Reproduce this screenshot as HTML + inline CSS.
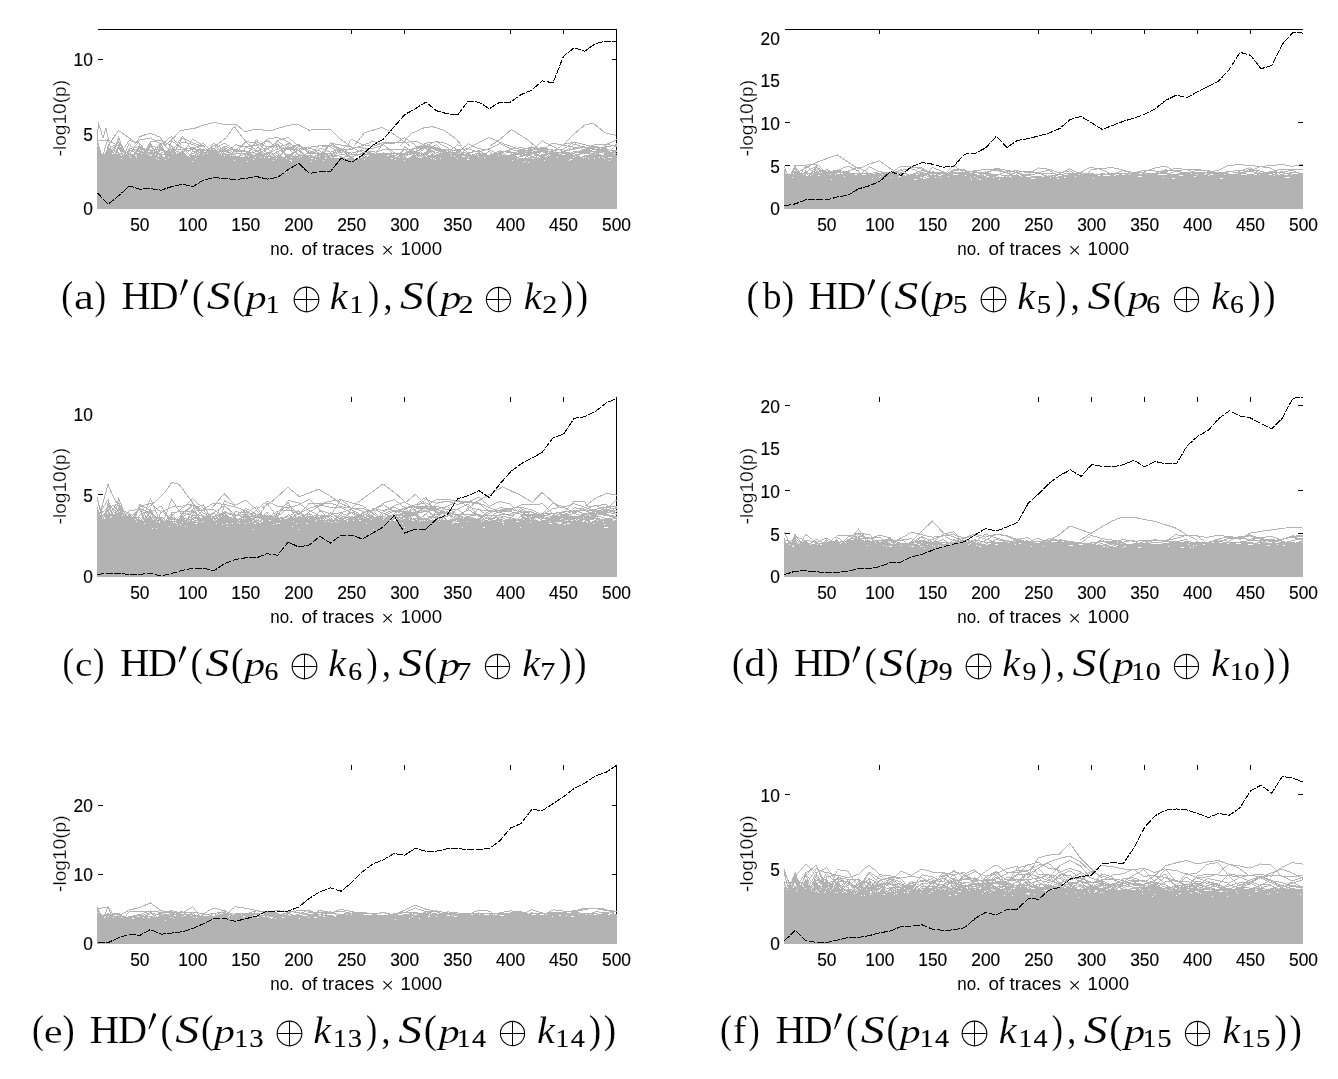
<!DOCTYPE html><html><head><meta charset="utf-8"><style>html,body{margin:0;padding:0;background:#fff;}svg{display:block;will-change:transform;}text{font-family:"Liberation Sans",sans-serif;}.s{font-family:"Liberation Serif",serif;}</style></head><body>
<svg width="1338" height="1079" viewBox="0 0 1338 1079">
<rect width="1338" height="1079" fill="#fff"/>
<path d="M98 29h519v1h-519zM616 29h1v180h-1zM351 29h1v5h-1zM404 29h1v5h-1zM510 29h1v5h-1zM563 29h1v5h-1zM98 59h5v1h-5zM612 59h5v1h-5z" fill="#000" shape-rendering="crispEdges"/>
<path d="M118 136.5h1M171 136.5h1M182 136.5h1M118 137.5h1M150 137.5h1M169 137.5h2M172 137.5h1M181 137.5h1M183 137.5h1M274 137.5h5M286 137.5h3M404 137.5h1M488 137.5h2M108 138.5h1M118 138.5h2M145 138.5h5M151 138.5h1M168 138.5h1M173 138.5h1M180 138.5h5M268 138.5h6M279 138.5h2M282 138.5h4M289 138.5h1M402 138.5h2M405 138.5h2M486 138.5h2M490 138.5h3M107 139.5h2M117 139.5h3M140 139.5h5M152 139.5h2M167 139.5h1M174 139.5h1M180 139.5h2M184 139.5h3M192 139.5h2M256 139.5h1M266 139.5h2M279 139.5h5M290 139.5h1M351 139.5h2M401 139.5h1M407 139.5h1M484 139.5h2M493 139.5h2M616 139.5h1M97 140.5h13M117 140.5h1M119 140.5h1M129 140.5h2M139 140.5h1M154 140.5h9M166 140.5h1M171 140.5h1M174 140.5h1M179 140.5h2M185 140.5h1M187 140.5h2M191 140.5h1M194 140.5h2M255 140.5h1M257 140.5h1M265 140.5h2M268 140.5h1M277 140.5h2M284 140.5h2M291 140.5h2M350 140.5h1M353 140.5h2M399 140.5h2M408 140.5h1M482 140.5h2M495 140.5h2M542 140.5h1M614 140.5h2M97 141.5h1M107 141.5h2M110 141.5h1M117 141.5h2M120 141.5h1M128 141.5h1M131 141.5h4M138 141.5h1M150 141.5h7M163 141.5h3M171 141.5h2M175 141.5h1M178 141.5h1M180 141.5h1M185 141.5h1M189 141.5h2M196 141.5h1M245 141.5h4M255 141.5h3M264 141.5h6M276 141.5h3M286 141.5h2M293 141.5h1M349 141.5h1M355 141.5h2M371 141.5h4M397 141.5h2M409 141.5h9M435 141.5h4M480 141.5h2M497 141.5h2M541 141.5h1M543 141.5h1M612 141.5h2M97 142.5h1M106 142.5h1M109 142.5h1M111 142.5h2M116 142.5h5M127 142.5h1M135 142.5h4M150 142.5h1M157 142.5h2M163 142.5h3M171 142.5h1M173 142.5h2M176 142.5h1M178 142.5h2M181 142.5h6M190 142.5h3M197 142.5h2M244 142.5h3M249 142.5h7M257 142.5h2M262 142.5h3M269 142.5h2M275 142.5h2M279 142.5h1M288 142.5h2M294 142.5h1M330 142.5h1M349 142.5h1M357 142.5h2M369 142.5h2M375 142.5h3M382 142.5h27M411 142.5h1M418 142.5h2M427 142.5h8M437 142.5h7M478 142.5h2M499 142.5h3M540 142.5h1M544 142.5h2M570 142.5h8M610 142.5h2M97 143.5h2M106 143.5h1M109 143.5h1M113 143.5h2M116 143.5h2M119 143.5h2M127 143.5h1M129 143.5h1M137 143.5h1M139 143.5h1M149 143.5h2M159 143.5h4M166 143.5h2M170 143.5h1M175 143.5h1M177 143.5h1M179 143.5h2M187 143.5h4M193 143.5h3M199 143.5h2M202 143.5h2M213 143.5h2M223 143.5h3M243 143.5h2M247 143.5h1M254 143.5h3M259 143.5h4M264 143.5h1M271 143.5h1M274 143.5h2M277 143.5h1M280 143.5h2M287 143.5h4M295 143.5h1M330 143.5h5M348 143.5h1M359 143.5h2M366 143.5h3M378 143.5h4M383 143.5h12M412 143.5h2M420 143.5h2M424 143.5h3M430 143.5h2M439 143.5h1M444 143.5h3M468 143.5h1M476 143.5h2M499 143.5h2M502 143.5h2M539 143.5h1M546 143.5h2M551 143.5h6M565 143.5h5M571 143.5h2M575 143.5h1M578 143.5h4M607 143.5h3M616 143.5h1M97 144.5h2M106 144.5h1M109 144.5h1M115 144.5h2M118 144.5h4M126 144.5h1M128 144.5h1M130 144.5h1M136 144.5h1M139 144.5h2M148 144.5h4M159 144.5h3M163 144.5h1M168 144.5h3M176 144.5h3M180 144.5h1M188 144.5h1M191 144.5h3M196 144.5h3M200 144.5h2M204 144.5h1M212 144.5h1M215 144.5h2M221 144.5h2M226 144.5h1M235 144.5h2M242 144.5h2M248 144.5h2M253 144.5h2M256 144.5h3M260 144.5h4M272 144.5h2M275 144.5h4M282 144.5h1M285 144.5h4M290 144.5h2M296 144.5h4M329 144.5h1M331 144.5h3M335 144.5h6M347 144.5h1M361 144.5h5M377 144.5h3M381 144.5h3M414 144.5h1M422 144.5h3M427 144.5h3M436 144.5h1M440 144.5h2M447 144.5h2M457 144.5h1M467 144.5h1M469 144.5h2M474 144.5h2M497 144.5h2M501 144.5h2M504 144.5h3M538 144.5h1M548 144.5h3M557 144.5h5M563 144.5h2M570 144.5h1M573 144.5h4M582 144.5h4M594 144.5h16M615 144.5h2M98 145.5h1M105 145.5h1M108 145.5h2M113 145.5h9M125 145.5h1M128 145.5h1M130 145.5h1M135 145.5h1M139 145.5h1M141 145.5h1M148 145.5h4M158 145.5h4M164 145.5h1M169 145.5h3M176 145.5h4M188 145.5h1M194 145.5h2M198 145.5h6M205 145.5h1M211 145.5h1M213 145.5h2M217 145.5h1M219 145.5h2M227 145.5h2M234 145.5h1M237 145.5h6M250 145.5h8M259 145.5h2M262 145.5h3M271 145.5h6M278 145.5h2M281 145.5h4M286 145.5h1M289 145.5h1M292 145.5h9M318 145.5h14M333 145.5h2M341 145.5h6M361 145.5h3M365 145.5h5M374 145.5h3M380 145.5h3M384 145.5h1M415 145.5h1M420 145.5h2M423 145.5h5M429 145.5h2M434 145.5h2M437 145.5h1M442 145.5h2M449 145.5h2M456 145.5h1M458 145.5h2M466 145.5h1M471 145.5h3M495 145.5h2M503 145.5h2M507 145.5h3M537 145.5h1M548 145.5h4M561 145.5h6M568 145.5h2M572 145.5h1M577 145.5h3M586 145.5h4M591 145.5h3M604 145.5h2M610 145.5h7M97 146.5h2M105 146.5h1M107 146.5h2M110 146.5h3M114 146.5h2M118 146.5h2M121 146.5h2M125 146.5h1M127 146.5h1M131 146.5h1M134 146.5h1M137 146.5h6M147 146.5h8M157 146.5h1M159 146.5h2M162 146.5h1M165 146.5h1M169 146.5h1M171 146.5h2M175 146.5h1M177 146.5h4M187 146.5h1M189 146.5h1M196 146.5h9M206 146.5h1M211 146.5h2M215 146.5h1M217 146.5h3M223 146.5h4M229 146.5h1M233 146.5h1M239 146.5h14M258 146.5h1M261 146.5h2M265 146.5h10M276 146.5h6M285 146.5h1M287 146.5h2M290 146.5h1M292 146.5h4M298 146.5h4M311 146.5h8M322 146.5h9M332 146.5h5M345 146.5h7M358 146.5h3M370 146.5h4M377 146.5h4M385 146.5h1M404 146.5h1M415 146.5h19M438 146.5h1M444 146.5h2M451 146.5h1M455 146.5h1M460 146.5h1M464 146.5h2M471 146.5h4M493 146.5h2M505 146.5h2M510 146.5h3M531 146.5h1M535 146.5h2M547 146.5h1M552 146.5h2M560 146.5h1M567 146.5h6M579 146.5h6M589 146.5h9M603 146.5h1M605 146.5h6M614 146.5h3M97 147.5h3M105 147.5h1M107 147.5h2M110 147.5h1M113 147.5h3M117 147.5h6M124 147.5h1M127 147.5h1M132 147.5h5M138 147.5h5M147 147.5h3M151 147.5h2M155 147.5h8M166 147.5h1M169 147.5h2M172 147.5h3M176 147.5h2M180 147.5h3M186 147.5h1M190 147.5h6M197 147.5h2M204 147.5h1M207 147.5h1M210 147.5h2M215 147.5h3M220 147.5h1M222 147.5h3M227 147.5h2M230 147.5h3M238 147.5h1M240 147.5h1M245 147.5h3M251 147.5h2M257 147.5h2M261 147.5h2M266 147.5h1M268 147.5h4M273 147.5h1M275 147.5h2M279 147.5h2M282 147.5h2M285 147.5h10M296 147.5h2M301 147.5h10M317 147.5h1M326 147.5h2M331 147.5h1M334 147.5h5M344 147.5h1M351 147.5h12M374 147.5h3M380 147.5h1M386 147.5h2M404 147.5h3M414 147.5h1M416 147.5h22M439 147.5h1M446 147.5h2M452 147.5h3M461 147.5h1M463 147.5h1M469 147.5h2M475 147.5h2M491 147.5h2M507 147.5h2M513 147.5h3M518 147.5h5M528 147.5h10M540 147.5h7M554 147.5h2M558 147.5h2M565 147.5h2M570 147.5h1M573 147.5h6M580 147.5h27M613 147.5h1M97 148.5h3M104 148.5h1M107 148.5h4M112 148.5h1M114 148.5h2M117 148.5h7M126 148.5h1M129 148.5h3M133 148.5h1M137 148.5h8M146 148.5h4M152 148.5h2M155 148.5h1M157 148.5h1M159 148.5h5M167 148.5h2M170 148.5h1M172 148.5h3M176 148.5h1M180 148.5h1M183 148.5h13M199 148.5h2M205 148.5h1M208 148.5h7M218 148.5h1M220 148.5h3M224 148.5h3M229 148.5h4M237 148.5h1M239 148.5h1M244 148.5h1M248 148.5h4M253 148.5h2M256 148.5h1M259 148.5h2M263 148.5h6M272 148.5h1M277 148.5h1M279 148.5h15M295 148.5h2M298 148.5h9M308 148.5h4M316 148.5h1M319 148.5h4M325 148.5h3M332 148.5h2M336 148.5h6M343 148.5h1M349 148.5h2M352 148.5h3M362 148.5h12M379 148.5h1M387 148.5h2M403 148.5h1M407 148.5h1M412 148.5h15M428 148.5h13M448 148.5h1M452 148.5h1M454 148.5h2M462 148.5h2M465 148.5h4M477 148.5h4M488 148.5h3M509 148.5h10M523 148.5h9M533 148.5h15M556 148.5h2M564 148.5h1M568 148.5h2M572 148.5h8M581 148.5h1M585 148.5h10M597 148.5h3M601 148.5h6M612 148.5h1M97 149.5h3M104 149.5h1M107 149.5h5M113 149.5h2M116 149.5h2M119 149.5h5M126 149.5h1M128 149.5h2M132 149.5h7M140 149.5h9M150 149.5h1M153 149.5h11M168 149.5h19M190 149.5h15M206 149.5h4M211 149.5h2M214 149.5h2M217 149.5h4M222 149.5h4M227 149.5h2M230 149.5h8M239 149.5h1M244 149.5h1M250 149.5h3M255 149.5h1M259 149.5h4M264 149.5h3M268 149.5h1M272 149.5h1M275 149.5h4M281 149.5h2M284 149.5h14M299 149.5h1M301 149.5h7M312 149.5h4M318 149.5h1M323 149.5h4M334 149.5h2M337 149.5h16M355 149.5h2M361 149.5h1M365 149.5h1M378 149.5h1M382 149.5h32M416 149.5h1M419 149.5h3M423 149.5h1M426 149.5h5M433 149.5h19M455 149.5h10M466 149.5h2M469 149.5h3M481 149.5h9M509 149.5h4M519 149.5h6M528 149.5h25M555 149.5h9M567 149.5h1M569 149.5h6M582 149.5h8M592 149.5h17M611 149.5h1M97 150.5h4M104 150.5h1M106 150.5h9M116 150.5h2M120 150.5h5M126 150.5h1M128 150.5h5M134 150.5h1M136 150.5h4M141 150.5h1M143 150.5h12M156 150.5h1M158 150.5h7M167 150.5h3M171 150.5h5M182 150.5h1M184 150.5h7M192 150.5h1M196 150.5h21M219 150.5h12M233 150.5h12M249 150.5h2M253 150.5h8M263 150.5h3M269 150.5h1M271 150.5h1M273 150.5h2M279 150.5h7M290 150.5h1M293 150.5h2M296 150.5h5M305 150.5h2M308 150.5h2M314 150.5h6M323 150.5h1M325 150.5h2M334 150.5h10M345 150.5h2M357 150.5h2M360 150.5h4M366 150.5h2M377 150.5h1M379 150.5h3M389 150.5h1M391 150.5h1M402 150.5h2M405 150.5h1M409 150.5h4M416 150.5h4M421 150.5h2M427 150.5h6M435 150.5h11M447 150.5h2M450 150.5h11M464 150.5h2M472 150.5h3M477 150.5h3M482 150.5h3M490 150.5h2M500 150.5h1M506 150.5h4M513 150.5h20M537 150.5h11M551 150.5h6M560 150.5h2M564 150.5h6M580 150.5h12M596 150.5h12M609 150.5h8M97 151.5h4M104 151.5h1M106 151.5h7M114 151.5h4M120 151.5h6M127 151.5h3M131 151.5h3M135 151.5h8M144 151.5h4M150 151.5h3M154 151.5h6M163 151.5h12M176 151.5h3M181 151.5h4M186 151.5h1M188 151.5h1M192 151.5h7M200 151.5h4M206 151.5h23M231 151.5h1M233 151.5h17M252 151.5h1M255 151.5h4M260 151.5h3M264 151.5h2M270 151.5h3M276 151.5h3M281 151.5h4M291 151.5h1M294 151.5h3M299 151.5h3M306 151.5h3M310 151.5h4M315 151.5h2M320 151.5h1M322 151.5h1M324 151.5h2M327 151.5h3M331 151.5h3M335 151.5h1M337 151.5h4M342 151.5h5M356 151.5h6M364 151.5h2M368 151.5h7M376 151.5h3M390 151.5h1M392 151.5h1M401 151.5h2M406 151.5h12M420 151.5h1M426 151.5h9M438 151.5h9M448 151.5h3M452 151.5h1M456 151.5h5M463 151.5h1M466 151.5h1M472 151.5h10M488 151.5h2M492 151.5h2M497 151.5h14M517 151.5h9M527 151.5h5M533 151.5h21M555 151.5h1M561 151.5h5M573 151.5h37M612 151.5h5M97 152.5h4M103 152.5h1M105 152.5h9M115 152.5h4M121 152.5h1M123 152.5h6M130 152.5h1M134 152.5h3M139 152.5h20M161 152.5h2M164 152.5h12M177 152.5h1M179 152.5h5M187 152.5h1M191 152.5h1M194 152.5h3M198 152.5h22M221 152.5h1M223 152.5h1M226 152.5h5M232 152.5h2M236 152.5h1M241 152.5h1M246 152.5h9M258 152.5h4M263 152.5h1M266 152.5h6M275 152.5h2M278 152.5h1M282 152.5h3M292 152.5h5M300 152.5h3M307 152.5h9M317 152.5h2M321 152.5h4M330 152.5h1M333 152.5h4M338 152.5h5M344 152.5h7M352 152.5h4M357 152.5h1M362 152.5h9M375 152.5h2M383 152.5h1M391 152.5h1M393 152.5h2M400 152.5h2M405 152.5h15M421 152.5h1M424 152.5h6M431 152.5h1M433 152.5h2M436 152.5h3M440 152.5h1M442 152.5h18M461 152.5h5M467 152.5h6M478 152.5h2M481 152.5h2M487 152.5h1M490 152.5h1M494 152.5h3M498 152.5h6M506 152.5h11M518 152.5h23M543 152.5h5M549 152.5h21M571 152.5h2M574 152.5h17M593 152.5h10M604 152.5h12M97 153.5h5M103 153.5h1M105 153.5h7M113 153.5h1M115 153.5h2M118 153.5h5M124 153.5h2M127 153.5h4M134 153.5h7M142 153.5h5M148 153.5h13M164 153.5h8M173 153.5h3M177 153.5h8M186 153.5h1M188 153.5h1M191 153.5h4M196 153.5h3M200 153.5h7M208 153.5h11M220 153.5h6M228 153.5h1M230 153.5h3M234 153.5h17M253 153.5h1M255 153.5h8M264 153.5h7M272 153.5h3M276 153.5h2M279 153.5h1M281 153.5h2M284 153.5h2M291 153.5h3M296 153.5h2M300 153.5h1M302 153.5h2M306 153.5h29M336 153.5h2M345 153.5h2M348 153.5h2M351 153.5h1M356 153.5h1M360 153.5h5M367 153.5h8M376 153.5h32M409 153.5h20M430 153.5h1M432 153.5h1M434 153.5h2M439 153.5h11M451 153.5h7M459 153.5h5M466 153.5h4M475 153.5h6M482 153.5h5M491 153.5h1M493 153.5h10M505 153.5h1M511 153.5h1M513 153.5h12M526 153.5h11M539 153.5h1M545 153.5h14M561 153.5h14M579 153.5h11M591 153.5h4M596 153.5h3M603 153.5h11M615 153.5h2M97 154.5h23M121 154.5h2M124 154.5h26M151 154.5h4M156 154.5h30M189 154.5h3M195 154.5h3M199 154.5h4M204 154.5h17M222 154.5h13M240 154.5h1M243 154.5h10M255 154.5h13M269 154.5h1M271 154.5h3M275 154.5h1M278 154.5h1M280 154.5h2M284 154.5h9M294 154.5h1M297 154.5h3M301 154.5h1M303 154.5h3M310 154.5h1M312 154.5h1M317 154.5h11M330 154.5h3M334 154.5h2M339 154.5h6M346 154.5h3M350 154.5h11M362 154.5h30M393 154.5h1M396 154.5h16M413 154.5h2M416 154.5h4M421 154.5h7M431 154.5h3M436 154.5h35M472 154.5h3M476 154.5h1M478 154.5h9M490 154.5h12M503 154.5h2M510 154.5h12M523 154.5h9M534 154.5h5M541 154.5h7M549 154.5h13M565 154.5h8M575 154.5h6M589 154.5h12M604 154.5h12M97 155.5h24M122 155.5h7M130 155.5h5M137 155.5h12M150 155.5h1M152 155.5h6M159 155.5h3M165 155.5h22M189 155.5h7M197 155.5h27M225 155.5h5M231 155.5h1M233 155.5h1M235 155.5h1M239 155.5h4M245 155.5h1M247 155.5h18M266 155.5h1M268 155.5h3M273 155.5h2M276 155.5h5M285 155.5h8M295 155.5h1M298 155.5h14M315 155.5h10M326 155.5h13M345 155.5h5M354 155.5h4M364 155.5h1M369 155.5h18M389 155.5h8M399 155.5h6M406 155.5h2M412 155.5h13M426 155.5h25M452 155.5h46M499 155.5h17M520 155.5h11M534 155.5h13M548 155.5h1M550 155.5h29M584 155.5h33M97 156.5h61M159 156.5h4M165 156.5h24M190 156.5h50M244 156.5h4M249 156.5h24M274 156.5h2M277 156.5h5M285 156.5h16M302 156.5h7M310 156.5h6M317 156.5h2M320 156.5h10M331 156.5h6M339 156.5h3M345 156.5h9M361 156.5h3M365 156.5h2M368 156.5h27M397 156.5h6M404 156.5h2M411 156.5h5M417 156.5h2M420 156.5h2M423 156.5h3M427 156.5h27M455 156.5h7M465 156.5h13M479 156.5h38M519 156.5h4M526 156.5h2M530 156.5h4M536 156.5h1M539 156.5h6M547 156.5h28M576 156.5h4M582 156.5h35M97 157.5h33M131 157.5h5M137 157.5h31M169 157.5h86M256 157.5h4M261 157.5h3M265 157.5h3M270 157.5h21M292 157.5h7M300 157.5h26M327 157.5h4M332 157.5h2M340 157.5h5M349 157.5h4M360 157.5h1M362 157.5h37M400 157.5h6M409 157.5h9M419 157.5h1M422 157.5h46M469 157.5h15M485 157.5h34M525 157.5h1M528 157.5h1M530 157.5h7M538 157.5h1M540 157.5h17M558 157.5h15M574 157.5h9M584 157.5h1M586 157.5h13M600 157.5h2M603 157.5h5M609 157.5h1M612 157.5h5M97 158.5h24M122 158.5h34M157 158.5h38M196 158.5h80M277 158.5h9M287 158.5h24M313 158.5h12M326 158.5h19M347 158.5h7M359 158.5h32M393 158.5h38M432 158.5h1M434 158.5h6M441 158.5h16M458 158.5h59M518 158.5h14M534 158.5h54M589 158.5h5M595 158.5h9M605 158.5h12M97 159.5h61M159 159.5h6M166 159.5h87M254 159.5h61M316 159.5h48M365 159.5h30M396 159.5h39M436 159.5h31M469 159.5h101M572 159.5h45M97 160.5h137M235 160.5h38M274 160.5h16M292 160.5h31M324 160.5h80M405 160.5h107M513 160.5h31M545 160.5h24M570 160.5h39M610 160.5h7M97 161.5h95M193 161.5h54M248 161.5h43M292 161.5h19M312 161.5h213M526 161.5h91M97 162.5h192M290 162.5h233M524 162.5h4M529 162.5h88M97 163.5h520M97 164.5h520M97 165.5h520M97 166.5h520M97 167.5h520M97 168.5h520M97 169.5h520M97 170.5h520M97 171.5h520M97 172.5h520M97 173.5h520M97 174.5h520M97 175.5h520M97 176.5h520M97 177.5h520M97 178.5h520M97 179.5h520M97 180.5h520M97 181.5h520M97 182.5h520M97 183.5h520M97 184.5h520M97 185.5h520M97 186.5h520M97 187.5h520M97 188.5h520M97 189.5h520M97 190.5h520M97 191.5h520M97 192.5h520M97 193.5h520M97 194.5h520M97 195.5h520M97 196.5h520M97 197.5h520M97 198.5h520M97 199.5h520M97 200.5h520M97 201.5h520M97 202.5h520M97 203.5h520M97 204.5h520M97 205.5h520M97 206.5h520M97 207.5h520M97 208.5h520M164.3 146L171.7 139.9L180.4 130.5L190 129L196.6 127.8L203.3 125.1L214 122.4L223.5 124.4L235.6 124.4L239.6 127.1L245 131.8L255.7 129.1L270 130.9L287.5 125.5L297.6 124.1L309 130.2L316.4 129.5L330.5 129.5L340 138.9L350 146M108 146L118.5 130.5L128 137L136 143.3L140 136.5L150.1 133.2L160.2 137.2L165.6 146M215 146L226.2 137.9L234.2 126.4L245 140.6L250 146M354 146L364.2 132.9L381.7 127.5L391.1 132.2L403.2 141L410 146M400 146L411.3 133.5L424.7 127.5L432.8 126.8L443.6 130.2L455 138L462 146M490 146L500.3 139L511.4 129.5L526.5 139L535 146M562 146L572.9 134.9L585 124.8L593.1 123.2L605.2 132.9L616 135.3M97.5 140L98.3 122.4L103 138L106 128L110 146" stroke="#b3b3b3" stroke-width="1" fill="none" shape-rendering="crispEdges"/>
<polyline points="97.5,193 108.09,204.3 118.68,195.7 129.28,186 139.87,189.2 150.46,188.6 161.05,190.2 171.64,186.6 182.23,184.2 192.83,186.6 203.42,180.1 214.01,177.5 224.6,178.5 235.19,179.5 245.79,178.5 256.38,176.5 266.97,179.1 277.56,177.5 288.15,169.4 298.74,163.4 309.34,173.5 319.93,171.5 330.52,171.5 341.11,158.3 351.7,162.4 362.3,155.1 372.89,145 383.48,139 394.07,126.9 404.66,114.7 415.26,108.7 425.85,102.2 436.44,110.7 447.03,113.7 457.62,115.1 468.21,101 478.81,102.2 489.4,108.7 499.99,102 510.58,102 521.17,94.6 531.77,90.1 542.36,80.8 552.95,82.9 563.54,56.2 574.13,47.8 584.72,51.2 595.32,43.7 605.91,41.1 616.5,41.1" fill="none" stroke="#000" stroke-width="1" stroke-dasharray="7 1.2" shape-rendering="crispEdges"/>
<g font-size="18" fill="#000" stroke="#000" stroke-width="0.15"><text transform="translate(92.8,215.3) scale(0.965,1)" text-anchor="end">0</text><text transform="translate(92.8,140.72) scale(0.965,1)" text-anchor="end">5</text><text transform="translate(92.8,66.13) scale(0.965,1)" text-anchor="end">10</text><text transform="translate(139.87,230.7) scale(0.965,1)" text-anchor="middle">50</text><text transform="translate(192.83,230.7) scale(0.965,1)" text-anchor="middle">100</text><text transform="translate(245.79,230.7) scale(0.965,1)" text-anchor="middle">150</text><text transform="translate(298.74,230.7) scale(0.965,1)" text-anchor="middle">200</text><text transform="translate(351.7,230.7) scale(0.965,1)" text-anchor="middle">250</text><text transform="translate(404.66,230.7) scale(0.965,1)" text-anchor="middle">300</text><text transform="translate(457.62,230.7) scale(0.965,1)" text-anchor="middle">350</text><text transform="translate(510.58,230.7) scale(0.965,1)" text-anchor="middle">400</text><text transform="translate(563.54,230.7) scale(0.965,1)" text-anchor="middle">450</text><text transform="translate(616.5,230.7) scale(0.965,1)" text-anchor="middle">500</text></g>
<g font-size="17.5" fill="#000"><text x="270.2" y="254.9" textLength="23.600000000000023" lengthAdjust="spacingAndGlyphs">no.</text><text x="301.5" y="254.9" textLength="72.69999999999999" lengthAdjust="spacingAndGlyphs">of traces</text><text x="400.6" y="254.9" textLength="41.39999999999996" lengthAdjust="spacingAndGlyphs">1000</text></g>
<path d="M383.4 246.2L391.8 254.4M391.8 246.2L383.4 254.4" stroke="#000" stroke-width="1.05" fill="none"/>
<text transform="translate(65.8,118.2) rotate(-90)" x="0" y="0" text-anchor="middle" font-size="19" textLength="76.6" lengthAdjust="spacingAndGlyphs" stroke="#fff" stroke-width="0.25">-log10(p)</text>
<path d="M785 29h518v1h-518zM879 29h1v5h-1zM1038 29h1v5h-1zM1091 29h1v5h-1zM1144 29h1v5h-1zM1197 29h1v5h-1zM1250 29h1v5h-1zM785 165h5v1h-5zM785 122h5v1h-5zM1298 165h5v1h-5zM1298 122h5v1h-5z" fill="#000" shape-rendering="crispEdges"/>
<path d="M807 164.5h10M1234 164.5h10M1277 164.5h8M1299 164.5h4M794 165.5h13M816 165.5h3M953 165.5h1M1227 165.5h7M1244 165.5h11M1266 165.5h11M1285 165.5h5M1294 165.5h5M784 166.5h1M794 166.5h2M805 166.5h2M815 166.5h2M819 166.5h1M846 166.5h4M869 166.5h1M900 166.5h14M952 166.5h1M954 166.5h2M1160 166.5h7M1225 166.5h2M1255 166.5h11M1290 166.5h4M784 167.5h1M794 167.5h2M804 167.5h1M807 167.5h2M813 167.5h5M820 167.5h1M843 167.5h3M850 167.5h2M856 167.5h4M868 167.5h1M870 167.5h2M898 167.5h2M909 167.5h13M932 167.5h2M951 167.5h1M956 167.5h1M1038 167.5h1M1089 167.5h5M1107 167.5h7M1155 167.5h5M1167 167.5h2M1223 167.5h2M1249 167.5h1M1257 167.5h2M1263 167.5h7M785 168.5h1M793 168.5h4M804 168.5h1M809 168.5h1M811 168.5h2M814 168.5h2M817 168.5h3M821 168.5h1M841 168.5h2M852 168.5h4M860 168.5h1M867 168.5h1M872 168.5h2M897 168.5h1M908 168.5h4M917 168.5h4M922 168.5h2M931 168.5h1M934 168.5h2M950 168.5h1M957 168.5h2M994 168.5h6M1037 168.5h1M1039 168.5h8M1069 168.5h1M1087 168.5h2M1094 168.5h13M1114 168.5h5M1152 168.5h3M1169 168.5h2M1173 168.5h9M1221 168.5h2M1246 168.5h3M1250 168.5h2M1255 168.5h2M1270 168.5h2M784 169.5h2M793 169.5h5M803 169.5h1M809 169.5h2M813 169.5h4M818 169.5h3M822 169.5h1M826 169.5h2M837 169.5h1M839 169.5h2M851 169.5h5M861 169.5h2M866 169.5h1M874 169.5h2M895 169.5h2M900 169.5h2M903 169.5h5M912 169.5h3M921 169.5h4M930 169.5h1M936 169.5h3M949 169.5h1M953 169.5h12M981 169.5h24M1035 169.5h2M1047 169.5h4M1067 169.5h2M1070 169.5h2M1085 169.5h2M1091 169.5h6M1099 169.5h3M1119 169.5h4M1149 169.5h3M1165 169.5h2M1170 169.5h3M1182 169.5h19M1219 169.5h2M1243 169.5h3M1248 169.5h7M1272 169.5h2M1278 169.5h25M784 170.5h2M792 170.5h2M796 170.5h1M798 170.5h1M802 170.5h1M805 170.5h1M808 170.5h1M811 170.5h2M814 170.5h2M817 170.5h1M819 170.5h7M827 170.5h3M833 170.5h9M848 170.5h3M856 170.5h3M863 170.5h3M876 170.5h2M893 170.5h2M898 170.5h5M915 170.5h2M921 170.5h6M929 170.5h1M939 170.5h2M948 170.5h1M951 170.5h8M960 170.5h7M973 170.5h8M990 170.5h12M1005 170.5h6M1013 170.5h6M1033 170.5h2M1045 170.5h5M1051 170.5h3M1065 170.5h2M1069 170.5h1M1072 170.5h2M1083 170.5h2M1090 170.5h1M1102 170.5h3M1122 170.5h4M1141 170.5h14M1162 170.5h20M1188 170.5h3M1194 170.5h16M1215 170.5h4M1234 170.5h11M1246 170.5h2M1249 170.5h11M1274 170.5h4M1288 170.5h6M784 171.5h3M792 171.5h6M799 171.5h1M802 171.5h1M805 171.5h3M812 171.5h3M816 171.5h11M828 171.5h13M842 171.5h7M858 171.5h1M863 171.5h1M865 171.5h1M878 171.5h4M892 171.5h2M897 171.5h2M903 171.5h2M917 171.5h4M924 171.5h7M932 171.5h2M941 171.5h3M947 171.5h1M950 171.5h4M962 171.5h1M965 171.5h12M985 171.5h1M987 171.5h4M999 171.5h6M1006 171.5h9M1016 171.5h2M1019 171.5h15M1041 171.5h4M1050 171.5h2M1054 171.5h3M1063 171.5h6M1070 171.5h2M1074 171.5h2M1081 171.5h2M1089 171.5h1M1105 171.5h2M1119 171.5h3M1124 171.5h7M1137 171.5h4M1144 171.5h2M1155 171.5h13M1174 171.5h7M1191 171.5h3M1207 171.5h8M1226 171.5h8M1238 171.5h2M1244 171.5h10M1256 171.5h2M1260 171.5h4M1269 171.5h8M1280 171.5h3M1284 171.5h4M1294 171.5h2M784 172.5h1M786 172.5h1M791 172.5h7M799 172.5h1M801 172.5h1M804 172.5h4M811 172.5h2M814 172.5h5M820 172.5h1M822 172.5h28M859 172.5h1M862 172.5h1M866 172.5h2M873 172.5h5M881 172.5h12M895 172.5h3M900 172.5h2M905 172.5h1M916 172.5h2M919 172.5h5M927 172.5h20M948 172.5h22M972 172.5h17M1003 172.5h5M1009 172.5h1M1014 172.5h6M1024 172.5h17M1052 172.5h1M1057 172.5h7M1072 172.5h2M1076 172.5h7M1088 172.5h1M1107 172.5h2M1116 172.5h3M1128 172.5h2M1131 172.5h15M1156 172.5h3M1160 172.5h7M1171 172.5h3M1180 172.5h48M1233 172.5h13M1254 172.5h3M1258 172.5h2M1263 172.5h22M1289 172.5h10M784 173.5h2M787 173.5h1M791 173.5h2M794 173.5h43M840 173.5h1M843 173.5h30M875 173.5h22M898 173.5h9M913 173.5h6M920 173.5h55M978 173.5h13M1000 173.5h3M1007 173.5h4M1012 173.5h3M1017 173.5h5M1029 173.5h1M1035 173.5h21M1059 173.5h2M1064 173.5h18M1083 173.5h11M1100 173.5h5M1107 173.5h32M1142 173.5h3M1146 173.5h25M1178 173.5h13M1192 173.5h13M1207 173.5h22M1236 173.5h1M1238 173.5h9M1254 173.5h19M1275 173.5h2M1279 173.5h1M1283 173.5h9M1298 173.5h5M784 174.5h19M804 174.5h2M807 174.5h1M809 174.5h3M813 174.5h17M831 174.5h4M836 174.5h19M857 174.5h5M866 174.5h16M883 174.5h20M906 174.5h3M910 174.5h6M918 174.5h12M932 174.5h2M936 174.5h5M943 174.5h10M958 174.5h19M980 174.5h2M983 174.5h1M985 174.5h16M1009 174.5h4M1016 174.5h1M1020 174.5h15M1041 174.5h3M1055 174.5h9M1068 174.5h11M1080 174.5h36M1119 174.5h3M1125 174.5h4M1130 174.5h28M1167 174.5h29M1197 174.5h7M1205 174.5h5M1213 174.5h11M1225 174.5h16M1247 174.5h7M1257 174.5h2M1260 174.5h9M1272 174.5h6M1280 174.5h4M1288 174.5h3M1292 174.5h11M784 175.5h22M808 175.5h2M811 175.5h7M820 175.5h85M906 175.5h21M928 175.5h10M941 175.5h24M966 175.5h18M986 175.5h12M1001 175.5h18M1021 175.5h10M1043 175.5h4M1048 175.5h1M1050 175.5h8M1062 175.5h36M1100 175.5h3M1110 175.5h4M1116 175.5h63M1183 175.5h25M1209 175.5h65M1275 175.5h28M784 176.5h60M845 176.5h35M881 176.5h18M901 176.5h23M927 176.5h21M949 176.5h25M975 176.5h12M989 176.5h7M998 176.5h1M1004 176.5h2M1007 176.5h2M1011 176.5h10M1022 176.5h4M1031 176.5h11M1044 176.5h9M1054 176.5h2M1058 176.5h17M1076 176.5h62M1142 176.5h52M1196 176.5h107M784 177.5h8M793 177.5h86M880 177.5h11M892 177.5h6M899 177.5h21M922 177.5h1M924 177.5h2M929 177.5h6M936 177.5h4M941 177.5h29M971 177.5h15M987 177.5h6M994 177.5h17M1012 177.5h38M1051 177.5h13M1066 177.5h97M1164 177.5h121M1290 177.5h13M784 178.5h88M873 178.5h50M926 178.5h51M978 178.5h53M1035 178.5h22M1059 178.5h34M1094 178.5h78M1175 178.5h45M1223 178.5h80M784 179.5h47M832 179.5h82M917 179.5h54M972 179.5h7M981 179.5h18M1000 179.5h303M784 180.5h519M784 181.5h519M784 182.5h519M784 183.5h519M784 184.5h519M784 185.5h519M784 186.5h519M784 187.5h519M784 188.5h519M784 189.5h519M784 190.5h519M784 191.5h519M784 192.5h519M784 193.5h519M784 194.5h519M784 195.5h519M784 196.5h519M784 197.5h519M784 198.5h519M784 199.5h519M784 200.5h519M784 201.5h519M784 202.5h519M784 203.5h519M784 204.5h519M784 205.5h519M784 206.5h519M784 207.5h519M784 208.5h519M795 174L805.6 168L816.2 162.5L826.8 158.5L837.4 155L847.9 162L858.5 169M858.5 169L869.1 164L879.6 160.9L890.2 168.5L900.8 174" stroke="#b3b3b3" stroke-width="1" fill="none" shape-rendering="crispEdges"/>
<polyline points="784.5,205.9 795.09,203.9 805.68,199.9 816.28,199.3 826.87,199.9 837.46,196.9 848.05,195.2 858.64,188.8 869.23,185.8 879.83,181.3 890.42,171.6 901.01,175.3 911.6,166.6 922.19,162.6 932.79,164.2 943.38,167.2 953.97,166 964.56,154.1 975.15,153.5 985.74,147.8 996.34,136.3 1006.93,147.4 1017.52,140.4 1028.11,138.7 1038.7,135.9 1049.3,133 1059.89,128.4 1070.48,119.3 1081.07,116.5 1091.66,122.9 1102.26,129.4 1112.85,125.3 1123.44,121.3 1134.03,117.9 1144.62,114.4 1155.21,108.8 1165.81,100.3 1176.4,95.1 1186.99,97.7 1197.58,91.6 1208.17,86.6 1218.77,80.9 1229.36,69.4 1239.95,52.3 1250.54,55.3 1261.13,68.8 1271.72,65.4 1282.32,44.2 1292.91,32.5 1303.5,33.1" fill="none" stroke="#000" stroke-width="1" stroke-dasharray="7 1.2" shape-rendering="crispEdges"/>
<g font-size="18" fill="#000" stroke="#000" stroke-width="0.15"><text transform="translate(779.8,215.3) scale(0.965,1)" text-anchor="end">0</text><text transform="translate(779.8,172.68) scale(0.965,1)" text-anchor="end">5</text><text transform="translate(779.8,130.06) scale(0.965,1)" text-anchor="end">10</text><text transform="translate(779.8,87.44) scale(0.965,1)" text-anchor="end">15</text><text transform="translate(779.8,44.82) scale(0.965,1)" text-anchor="end">20</text><text transform="translate(826.87,230.7) scale(0.965,1)" text-anchor="middle">50</text><text transform="translate(879.83,230.7) scale(0.965,1)" text-anchor="middle">100</text><text transform="translate(932.79,230.7) scale(0.965,1)" text-anchor="middle">150</text><text transform="translate(985.74,230.7) scale(0.965,1)" text-anchor="middle">200</text><text transform="translate(1038.7,230.7) scale(0.965,1)" text-anchor="middle">250</text><text transform="translate(1091.66,230.7) scale(0.965,1)" text-anchor="middle">300</text><text transform="translate(1144.62,230.7) scale(0.965,1)" text-anchor="middle">350</text><text transform="translate(1197.58,230.7) scale(0.965,1)" text-anchor="middle">400</text><text transform="translate(1250.54,230.7) scale(0.965,1)" text-anchor="middle">450</text><text transform="translate(1303.5,230.7) scale(0.965,1)" text-anchor="middle">500</text></g>
<g font-size="17.5" fill="#000"><text x="957.2" y="254.9" textLength="23.600000000000023" lengthAdjust="spacingAndGlyphs">no.</text><text x="988.5" y="254.9" textLength="72.69999999999999" lengthAdjust="spacingAndGlyphs">of traces</text><text x="1087.6" y="254.9" textLength="41.39999999999996" lengthAdjust="spacingAndGlyphs">1000</text></g>
<path d="M1070.4 246.2L1078.8 254.4M1078.8 246.2L1070.4 254.4" stroke="#000" stroke-width="1.05" fill="none"/>
<text transform="translate(752.8,118.2) rotate(-90)" x="0" y="0" text-anchor="middle" font-size="19" textLength="76.6" lengthAdjust="spacingAndGlyphs" stroke="#fff" stroke-width="0.25">-log10(p)</text>
<path d="M616 397h1v180h-1zM351 397h1v5h-1zM404 397h1v5h-1zM510 397h1v5h-1zM563 397h1v5h-1zM98 494h5v1h-5zM612 494h5v1h-5z" fill="#000" shape-rendering="crispEdges"/>
<path d="M97 497.5h1M118 497.5h1M425 497.5h2M477 497.5h3M97 498.5h1M118 498.5h1M150 498.5h1M171 498.5h1M192 498.5h1M423 498.5h2M426 498.5h1M475 498.5h2M480 498.5h1M97 499.5h1M108 499.5h1M118 499.5h2M150 499.5h1M171 499.5h1M191 499.5h1M193 499.5h1M308 499.5h2M339 499.5h3M393 499.5h2M422 499.5h1M425 499.5h3M436 499.5h15M473 499.5h2M481 499.5h1M97 500.5h1M107 500.5h2M118 500.5h2M149 500.5h1M151 500.5h1M171 500.5h2M190 500.5h1M194 500.5h1M224 500.5h1M244 500.5h3M288 500.5h3M306 500.5h2M310 500.5h1M332 500.5h7M340 500.5h1M342 500.5h3M390 500.5h3M395 500.5h1M421 500.5h1M424 500.5h1M427 500.5h3M434 500.5h2M451 500.5h9M470 500.5h3M482 500.5h1M615 500.5h2M97 501.5h2M106 501.5h1M108 501.5h1M117 501.5h1M119 501.5h1M149 501.5h1M151 501.5h1M170 501.5h1M173 501.5h1M189 501.5h1M195 501.5h1M224 501.5h3M242 501.5h2M247 501.5h1M266 501.5h3M287 501.5h1M291 501.5h4M304 501.5h2M311 501.5h1M327 501.5h5M339 501.5h1M343 501.5h1M345 501.5h4M387 501.5h3M396 501.5h1M419 501.5h2M422 501.5h2M428 501.5h1M430 501.5h4M442 501.5h9M454 501.5h18M483 501.5h1M499 501.5h3M573 501.5h12M614 501.5h1M98 502.5h1M106 502.5h1M108 502.5h1M117 502.5h2M120 502.5h1M148 502.5h1M152 502.5h1M170 502.5h1M173 502.5h1M188 502.5h1M196 502.5h1M223 502.5h1M227 502.5h2M240 502.5h2M248 502.5h1M265 502.5h1M269 502.5h2M286 502.5h1M288 502.5h1M295 502.5h4M302 502.5h2M312 502.5h1M324 502.5h3M338 502.5h1M344 502.5h1M349 502.5h3M384 502.5h3M397 502.5h2M402 502.5h4M418 502.5h1M421 502.5h1M425 502.5h1M429 502.5h1M431 502.5h1M433 502.5h3M437 502.5h6M450 502.5h5M460 502.5h19M484 502.5h2M496 502.5h3M502 502.5h4M572 502.5h1M585 502.5h1M613 502.5h1M98 503.5h1M105 503.5h1M107 503.5h3M117 503.5h4M148 503.5h5M169 503.5h1M174 503.5h1M187 503.5h1M192 503.5h2M197 503.5h1M212 503.5h9M223 503.5h1M229 503.5h3M238 503.5h2M249 503.5h1M263 503.5h2M266 503.5h2M271 503.5h2M286 503.5h3M299 503.5h3M308 503.5h25M338 503.5h1M345 503.5h2M352 503.5h4M382 503.5h2M399 503.5h3M406 503.5h2M417 503.5h1M419 503.5h6M426 503.5h2M429 503.5h2M436 503.5h2M452 503.5h4M459 503.5h5M472 503.5h9M486 503.5h1M494 503.5h2M506 503.5h4M540 503.5h3M552 503.5h3M572 503.5h3M585 503.5h1M612 503.5h1M98 504.5h1M105 504.5h1M107 504.5h3M115 504.5h3M119 504.5h1M121 504.5h1M139 504.5h2M145 504.5h4M152 504.5h1M169 504.5h1M175 504.5h1M186 504.5h6M193 504.5h2M198 504.5h2M203 504.5h1M210 504.5h2M221 504.5h6M232 504.5h2M236 504.5h2M250 504.5h1M262 504.5h1M266 504.5h2M273 504.5h2M285 504.5h2M289 504.5h1M298 504.5h3M308 504.5h1M314 504.5h1M319 504.5h5M333 504.5h3M337 504.5h1M347 504.5h1M356 504.5h4M381 504.5h1M383 504.5h1M396 504.5h3M400 504.5h1M408 504.5h2M415 504.5h5M428 504.5h3M435 504.5h1M450 504.5h2M456 504.5h3M464 504.5h1M466 504.5h3M479 504.5h5M487 504.5h1M492 504.5h2M510 504.5h1M521 504.5h19M543 504.5h1M551 504.5h1M555 504.5h3M570 504.5h3M575 504.5h3M586 504.5h1M601 504.5h6M611 504.5h1M98 505.5h2M104 505.5h1M107 505.5h4M112 505.5h4M117 505.5h1M119 505.5h3M139 505.5h6M147 505.5h1M153 505.5h1M169 505.5h1M175 505.5h1M183 505.5h4M190 505.5h6M200 505.5h4M209 505.5h1M221 505.5h1M224 505.5h1M227 505.5h4M234 505.5h2M251 505.5h1M261 505.5h1M265 505.5h1M268 505.5h1M275 505.5h2M284 505.5h1M287 505.5h3M295 505.5h3M301 505.5h2M307 505.5h1M315 505.5h9M336 505.5h3M348 505.5h1M360 505.5h3M379 505.5h4M384 505.5h1M394 505.5h2M401 505.5h1M410 505.5h5M417 505.5h1M425 505.5h3M430 505.5h2M434 505.5h1M448 505.5h2M464 505.5h3M469 505.5h1M481 505.5h1M484 505.5h2M488 505.5h1M490 505.5h2M511 505.5h1M519 505.5h2M544 505.5h1M550 505.5h1M558 505.5h3M567 505.5h4M578 505.5h3M587 505.5h1M593 505.5h8M607 505.5h1M610 505.5h1M99 506.5h1M103 506.5h1M107 506.5h5M114 506.5h1M116 506.5h1M118 506.5h4M139 506.5h5M147 506.5h1M153 506.5h2M159 506.5h3M168 506.5h1M172 506.5h11M184 506.5h1M190 506.5h2M193 506.5h7M201 506.5h1M204 506.5h1M207 506.5h2M221 506.5h5M231 506.5h4M252 506.5h2M256 506.5h1M260 506.5h1M264 506.5h1M269 506.5h1M277 506.5h7M286 506.5h1M289 506.5h6M303 506.5h1M306 506.5h1M313 506.5h6M324 506.5h5M336 506.5h1M339 506.5h4M349 506.5h1M363 506.5h1M377 506.5h4M385 506.5h2M392 506.5h2M402 506.5h2M408 506.5h31M445 506.5h3M462 506.5h2M467 506.5h2M470 506.5h1M482 506.5h1M486 506.5h2M489 506.5h1M512 506.5h1M517 506.5h2M545 506.5h1M549 506.5h1M561 506.5h6M569 506.5h1M581 506.5h3M587 506.5h7M597 506.5h2M606 506.5h11M97 507.5h1M99 507.5h1M103 507.5h1M107 507.5h5M114 507.5h3M118 507.5h1M120 507.5h3M138 507.5h2M142 507.5h1M144 507.5h3M154 507.5h2M158 507.5h1M162 507.5h1M168 507.5h1M170 507.5h2M176 507.5h1M182 507.5h2M189 507.5h2M193 507.5h1M195 507.5h4M202 507.5h1M204 507.5h3M220 507.5h2M223 507.5h1M226 507.5h1M235 507.5h3M254 507.5h2M257 507.5h3M264 507.5h1M270 507.5h1M282 507.5h10M304 507.5h2M310 507.5h3M316 507.5h2M329 507.5h13M343 507.5h8M364 507.5h2M376 507.5h3M387 507.5h2M390 507.5h6M404 507.5h9M414 507.5h14M429 507.5h7M439 507.5h7M448 507.5h1M460 507.5h2M469 507.5h3M483 507.5h2M488 507.5h2M499 507.5h4M513 507.5h11M546 507.5h1M548 507.5h1M557 507.5h8M568 507.5h1M574 507.5h2M584 507.5h3M589 507.5h2M599 507.5h12M615 507.5h2M97 508.5h1M99 508.5h2M102 508.5h1M106 508.5h2M109 508.5h2M112 508.5h2M115 508.5h2M118 508.5h5M138 508.5h3M143 508.5h1M146 508.5h2M150 508.5h1M154 508.5h1M156 508.5h2M162 508.5h1M168 508.5h2M177 508.5h1M181 508.5h1M188 508.5h2M193 508.5h5M199 508.5h2M203 508.5h3M220 508.5h1M223 508.5h1M227 508.5h2M238 508.5h3M245 508.5h2M252 508.5h2M255 508.5h1M257 508.5h1M263 508.5h1M270 508.5h1M281 508.5h3M287 508.5h2M291 508.5h2M304 508.5h1M306 508.5h1M308 508.5h2M314 508.5h2M318 508.5h1M335 508.5h1M342 508.5h2M350 508.5h14M366 508.5h1M372 508.5h5M388 508.5h4M396 508.5h2M402 508.5h6M411 508.5h1M413 508.5h1M416 508.5h25M442 508.5h3M449 508.5h1M458 508.5h2M472 508.5h4M478 508.5h1M485 508.5h1M490 508.5h3M497 508.5h2M503 508.5h10M514 508.5h1M520 508.5h2M524 508.5h4M547 508.5h1M552 508.5h5M565 508.5h3M573 508.5h1M576 508.5h8M586 508.5h4M597 508.5h4M602 508.5h2M606 508.5h1M610 508.5h7M97 509.5h1M99 509.5h3M105 509.5h6M112 509.5h3M116 509.5h8M135 509.5h9M146 509.5h1M148 509.5h3M155 509.5h1M157 509.5h1M163 509.5h1M166 509.5h2M178 509.5h1M180 509.5h1M186 509.5h3M192 509.5h1M194 509.5h1M197 509.5h2M201 509.5h1M203 509.5h11M218 509.5h2M223 509.5h1M228 509.5h2M241 509.5h2M244 509.5h1M247 509.5h2M251 509.5h1M256 509.5h1M258 509.5h1M263 509.5h1M271 509.5h1M280 509.5h3M286 509.5h1M289 509.5h1M291 509.5h1M293 509.5h1M303 509.5h1M306 509.5h2M313 509.5h1M319 509.5h1M334 509.5h1M344 509.5h2M349 509.5h3M355 509.5h4M364 509.5h2M367 509.5h2M372 509.5h3M376 509.5h4M385 509.5h7M398 509.5h5M404 509.5h3M410 509.5h1M412 509.5h4M420 509.5h3M427 509.5h12M443 509.5h1M445 509.5h14M468 509.5h1M472 509.5h1M476 509.5h5M486 509.5h2M493 509.5h4M500 509.5h14M515 509.5h1M519 509.5h1M522 509.5h2M528 509.5h4M546 509.5h1M548 509.5h1M551 509.5h1M566 509.5h3M572 509.5h1M580 509.5h2M583 509.5h3M589 509.5h8M601 509.5h9M613 509.5h1M97 510.5h2M100 510.5h2M104 510.5h1M106 510.5h3M110 510.5h3M114 510.5h2M117 510.5h7M129 510.5h6M137 510.5h2M140 510.5h2M143 510.5h3M149 510.5h3M153 510.5h3M158 510.5h2M161 510.5h1M163 510.5h3M167 510.5h1M178 510.5h2M185 510.5h3M191 510.5h3M195 510.5h10M206 510.5h1M214 510.5h2M217 510.5h2M222 510.5h1M229 510.5h2M242 510.5h5M249 510.5h2M255 510.5h2M259 510.5h1M262 510.5h1M272 510.5h1M279 510.5h16M298 510.5h1M302 510.5h1M304 510.5h2M308 510.5h2M311 510.5h2M319 510.5h3M333 510.5h1M346 510.5h3M350 510.5h1M352 510.5h2M359 510.5h3M366 510.5h8M375 510.5h3M380 510.5h7M391 510.5h11M403 510.5h1M407 510.5h1M409 510.5h3M414 510.5h2M418 510.5h4M423 510.5h4M428 510.5h9M438 510.5h5M451 510.5h1M455 510.5h1M459 510.5h1M466 510.5h2M469 510.5h2M473 510.5h1M476 510.5h1M480 510.5h13M494 510.5h14M509 510.5h3M513 510.5h4M518 510.5h1M520 510.5h3M524 510.5h1M532 510.5h2M545 510.5h1M549 510.5h2M565 510.5h1M569 510.5h3M573 510.5h29M603 510.5h14M97 511.5h2M100 511.5h4M105 511.5h4M110 511.5h2M113 511.5h1M115 511.5h4M120 511.5h6M128 511.5h1M136 511.5h2M140 511.5h3M145 511.5h8M155 511.5h1M160 511.5h1M162 511.5h3M167 511.5h1M177 511.5h19M198 511.5h1M201 511.5h1M204 511.5h1M207 511.5h1M215 511.5h2M218 511.5h1M222 511.5h1M224 511.5h2M230 511.5h2M235 511.5h3M241 511.5h1M243 511.5h2M246 511.5h3M251 511.5h1M254 511.5h1M257 511.5h1M259 511.5h1M261 511.5h1M273 511.5h1M276 511.5h3M280 511.5h1M283 511.5h1M291 511.5h2M294 511.5h6M301 511.5h3M309 511.5h3M319 511.5h6M333 511.5h1M343 511.5h3M348 511.5h2M353 511.5h3M362 511.5h2M365 511.5h7M374 511.5h1M378 511.5h2M383 511.5h2M388 511.5h3M392 511.5h19M413 511.5h1M415 511.5h5M421 511.5h9M434 511.5h4M440 511.5h5M446 511.5h2M452 511.5h3M460 511.5h1M464 511.5h2M471 511.5h1M474 511.5h2M481 511.5h1M488 511.5h10M499 511.5h13M517 511.5h5M523 511.5h9M534 511.5h2M544 511.5h1M547 511.5h2M550 511.5h1M562 511.5h18M586 511.5h3M592 511.5h16M609 511.5h6M616 511.5h1M97 512.5h6M105 512.5h2M108 512.5h2M111 512.5h2M114 512.5h3M118 512.5h5M124 512.5h1M126 512.5h3M135 512.5h3M141 512.5h1M143 512.5h10M156 512.5h1M160 512.5h2M163 512.5h1M165 512.5h2M171 512.5h6M180 512.5h1M182 512.5h2M185 512.5h1M189 512.5h1M191 512.5h6M199 512.5h2M202 512.5h1M205 512.5h1M207 512.5h1M213 512.5h2M217 512.5h2M222 512.5h6M230 512.5h1M232 512.5h1M234 512.5h1M238 512.5h12M252 512.5h3M258 512.5h1M260 512.5h2M266 512.5h2M273 512.5h1M275 512.5h1M277 512.5h1M279 512.5h1M282 512.5h1M292 512.5h6M299 512.5h3M308 512.5h1M312 512.5h2M318 512.5h1M322 512.5h1M325 512.5h3M330 512.5h1M332 512.5h1M339 512.5h4M349 512.5h6M356 512.5h2M362 512.5h4M367 512.5h2M370 512.5h3M374 512.5h1M380 512.5h3M386 512.5h2M390 512.5h2M395 512.5h2M398 512.5h2M402 512.5h21M427 512.5h1M429 512.5h2M435 512.5h16M452 512.5h3M461 512.5h3M472 512.5h4M482 512.5h2M486 512.5h2M490 512.5h2M496 512.5h6M512 512.5h7M520 512.5h10M531 512.5h3M536 512.5h2M543 512.5h1M545 512.5h2M551 512.5h1M556 512.5h9M568 512.5h3M572 512.5h5M579 512.5h3M588 512.5h7M596 512.5h15M613 512.5h3M97 513.5h5M104 513.5h3M108 513.5h2M111 513.5h2M115 513.5h11M127 513.5h1M129 513.5h1M134 513.5h3M141 513.5h4M146 513.5h1M148 513.5h5M156 513.5h1M160 513.5h1M164 513.5h3M171 513.5h1M174 513.5h1M180 513.5h6M187 513.5h2M190 513.5h2M193 513.5h1M195 513.5h2M199 513.5h2M203 513.5h2M206 513.5h3M211 513.5h4M217 513.5h1M219 513.5h7M227 513.5h5M233 513.5h2M238 513.5h1M240 513.5h1M244 513.5h2M247 513.5h2M250 513.5h6M259 513.5h3M265 513.5h1M267 513.5h1M273 513.5h2M276 513.5h4M281 513.5h1M293 513.5h1M296 513.5h6M307 513.5h1M309 513.5h1M314 513.5h2M317 513.5h1M323 513.5h1M328 513.5h11M340 513.5h3M348 513.5h3M352 513.5h1M354 513.5h3M358 513.5h1M361 513.5h3M366 513.5h2M369 513.5h1M372 513.5h2M375 513.5h1M381 513.5h1M383 513.5h3M388 513.5h2M394 513.5h1M400 513.5h18M426 513.5h1M430 513.5h2M434 513.5h1M437 513.5h9M448 513.5h6M455 513.5h1M461 513.5h3M473 513.5h4M484 513.5h2M488 513.5h2M494 513.5h2M502 513.5h3M511 513.5h3M515 513.5h5M523 513.5h2M528 513.5h1M533 513.5h4M538 513.5h2M541 513.5h16M559 513.5h3M565 513.5h3M572 513.5h4M582 513.5h25M611 513.5h4M616 513.5h1M97 514.5h3M101 514.5h1M103 514.5h21M125 514.5h2M128 514.5h4M133 514.5h4M140 514.5h3M144 514.5h1M147 514.5h2M151 514.5h3M157 514.5h1M159 514.5h1M165 514.5h2M170 514.5h4M181 514.5h1M183 514.5h1M186 514.5h5M192 514.5h1M194 514.5h1M196 514.5h3M201 514.5h1M205 514.5h2M208 514.5h5M215 514.5h2M218 514.5h6M225 514.5h2M229 514.5h7M237 514.5h3M241 514.5h7M249 514.5h4M255 514.5h7M264 514.5h1M268 514.5h1M272 514.5h1M275 514.5h2M278 514.5h3M288 514.5h1M291 514.5h2M294 514.5h2M297 514.5h3M301 514.5h3M305 514.5h7M316 514.5h2M324 514.5h1M328 514.5h1M331 514.5h3M339 514.5h1M343 514.5h3M347 514.5h2M353 514.5h2M356 514.5h6M363 514.5h4M368 514.5h2M373 514.5h2M376 514.5h1M380 514.5h1M382 514.5h1M385 514.5h3M392 514.5h2M395 514.5h8M404 514.5h14M424 514.5h3M431 514.5h10M444 514.5h1M446 514.5h5M452 514.5h28M484 514.5h4M493 514.5h1M499 514.5h12M513 514.5h2M520 514.5h24M547 514.5h4M553 514.5h2M557 514.5h15M576 514.5h3M581 514.5h6M588 514.5h9M598 514.5h11M615 514.5h2M97 515.5h25M123 515.5h4M128 515.5h3M132 515.5h1M134 515.5h3M139 515.5h1M142 515.5h2M145 515.5h1M147 515.5h2M150 515.5h1M152 515.5h3M157 515.5h1M159 515.5h1M165 515.5h3M169 515.5h1M171 515.5h2M180 515.5h3M184 515.5h2M189 515.5h1M191 515.5h13M206 515.5h5M215 515.5h13M232 515.5h9M243 515.5h6M251 515.5h5M257 515.5h11M269 515.5h3M274 515.5h5M287 515.5h1M289 515.5h2M294 515.5h3M301 515.5h5M307 515.5h1M310 515.5h1M312 515.5h1M314 515.5h17M334 515.5h3M338 515.5h1M340 515.5h2M346 515.5h2M355 515.5h9M366 515.5h7M375 515.5h1M377 515.5h1M380 515.5h1M382 515.5h1M385 515.5h1M387 515.5h5M395 515.5h24M423 515.5h2M427 515.5h1M432 515.5h3M438 515.5h2M441 515.5h1M443 515.5h3M447 515.5h6M455 515.5h6M465 515.5h1M470 515.5h6M477 515.5h24M508 515.5h6M521 515.5h28M552 515.5h6M560 515.5h9M570 515.5h1M579 515.5h6M586 515.5h3M591 515.5h7M603 515.5h11M97 516.5h6M104 516.5h7M112 516.5h20M133 516.5h3M138 516.5h1M142 516.5h2M145 516.5h3M149 516.5h2M152 516.5h1M154 516.5h2M157 516.5h1M159 516.5h1M165 516.5h1M167 516.5h2M170 516.5h2M173 516.5h1M179 516.5h5M188 516.5h2M191 516.5h2M195 516.5h2M198 516.5h1M202 516.5h15M218 516.5h3M222 516.5h7M232 516.5h1M234 516.5h2M240 516.5h38M285 516.5h4M290 516.5h2M293 516.5h3M298 516.5h3M302 516.5h3M306 516.5h8M315 516.5h3M320 516.5h10M331 516.5h2M335 516.5h5M342 516.5h5M348 516.5h2M351 516.5h2M354 516.5h11M366 516.5h8M376 516.5h9M387 516.5h10M399 516.5h1M402 516.5h9M412 516.5h1M416 516.5h4M422 516.5h2M428 516.5h6M435 516.5h3M440 516.5h1M442 516.5h6M450 516.5h3M454 516.5h2M457 516.5h6M466 516.5h5M478 516.5h7M487 516.5h1M491 516.5h1M495 516.5h2M501 516.5h5M512 516.5h1M520 516.5h4M526 516.5h5M532 516.5h13M549 516.5h52M609 516.5h8M97 517.5h7M105 517.5h5M111 517.5h29M142 517.5h2M145 517.5h2M148 517.5h15M164 517.5h1M167 517.5h6M174 517.5h1M178 517.5h1M180 517.5h4M188 517.5h4M193 517.5h7M202 517.5h9M212 517.5h3M216 517.5h2M219 517.5h13M233 517.5h3M241 517.5h10M253 517.5h21M275 517.5h4M280 517.5h7M289 517.5h5M295 517.5h31M327 517.5h2M330 517.5h1M333 517.5h1M336 517.5h3M340 517.5h3M344 517.5h19M364 517.5h3M369 517.5h14M385 517.5h24M410 517.5h2M417 517.5h5M428 517.5h17M451 517.5h1M453 517.5h2M456 517.5h1M458 517.5h2M461 517.5h9M471 517.5h2M480 517.5h3M485 517.5h2M488 517.5h3M493 517.5h10M506 517.5h6M519 517.5h1M522 517.5h4M527 517.5h2M530 517.5h14M545 517.5h4M550 517.5h33M584 517.5h12M597 517.5h1M601 517.5h3M612 517.5h5M97 518.5h5M103 518.5h1M105 518.5h32M138 518.5h1M140 518.5h1M142 518.5h10M153 518.5h1M155 518.5h7M163 518.5h2M167 518.5h9M177 518.5h1M179 518.5h10M191 518.5h46M239 518.5h3M243 518.5h1M245 518.5h10M257 518.5h1M259 518.5h25M287 518.5h21M309 518.5h15M325 518.5h2M329 518.5h1M331 518.5h1M334 518.5h3M338 518.5h8M348 518.5h10M359 518.5h32M393 518.5h6M400 518.5h3M405 518.5h7M413 518.5h16M430 518.5h2M435 518.5h6M442 518.5h1M444 518.5h2M452 518.5h1M454 518.5h9M464 518.5h12M477 518.5h5M483 518.5h1M485 518.5h10M497 518.5h2M501 518.5h1M503 518.5h2M509 518.5h2M512 518.5h4M518 518.5h1M521 518.5h14M538 518.5h2M541 518.5h21M563 518.5h37M604 518.5h8M613 518.5h4M97 519.5h38M136 519.5h4M141 519.5h1M143 519.5h10M154 519.5h3M158 519.5h5M164 519.5h1M166 519.5h1M168 519.5h17M186 519.5h8M197 519.5h16M214 519.5h2M217 519.5h38M256 519.5h1M258 519.5h1M261 519.5h19M281 519.5h39M321 519.5h2M324 519.5h1M327 519.5h6M334 519.5h4M339 519.5h5M346 519.5h25M372 519.5h11M384 519.5h10M397 519.5h4M402 519.5h7M410 519.5h6M417 519.5h13M432 519.5h1M435 519.5h3M439 519.5h1M441 519.5h2M445 519.5h2M450 519.5h31M482 519.5h3M488 519.5h5M496 519.5h7M505 519.5h18M524 519.5h6M531 519.5h3M535 519.5h1M540 519.5h2M546 519.5h14M561 519.5h14M576 519.5h2M579 519.5h15M596 519.5h17M616 519.5h1M97 520.5h46M144 520.5h20M165 520.5h5M171 520.5h1M174 520.5h1M176 520.5h13M190 520.5h2M194 520.5h20M215 520.5h24M240 520.5h13M254 520.5h5M260 520.5h2M263 520.5h6M271 520.5h45M317 520.5h30M348 520.5h5M354 520.5h5M361 520.5h29M391 520.5h2M396 520.5h16M414 520.5h6M421 520.5h1M423 520.5h1M425 520.5h2M428 520.5h28M457 520.5h26M484 520.5h4M489 520.5h1M491 520.5h11M503 520.5h35M541 520.5h24M566 520.5h1M568 520.5h3M573 520.5h3M577 520.5h6M585 520.5h5M594 520.5h3M598 520.5h15M614 520.5h3M97 521.5h39M137 521.5h19M157 521.5h2M160 521.5h27M188 521.5h8M198 521.5h5M204 521.5h48M253 521.5h4M258 521.5h3M263 521.5h30M294 521.5h21M316 521.5h9M326 521.5h2M329 521.5h6M336 521.5h11M348 521.5h71M420 521.5h19M440 521.5h13M454 521.5h1M456 521.5h11M468 521.5h13M482 521.5h16M499 521.5h17M519 521.5h30M550 521.5h32M584 521.5h2M587 521.5h3M592 521.5h11M604 521.5h13M97 522.5h62M160 522.5h13M174 522.5h1M176 522.5h6M183 522.5h18M202 522.5h35M238 522.5h11M250 522.5h9M261 522.5h70M332 522.5h5M338 522.5h115M455 522.5h1M459 522.5h43M504 522.5h26M531 522.5h25M558 522.5h1M562 522.5h25M588 522.5h29M97 523.5h47M145 523.5h31M177 523.5h18M197 523.5h19M217 523.5h9M228 523.5h4M233 523.5h6M240 523.5h5M246 523.5h8M256 523.5h20M278 523.5h1M280 523.5h16M297 523.5h9M308 523.5h58M367 523.5h35M403 523.5h49M453 523.5h96M552 523.5h6M561 523.5h6M570 523.5h23M594 523.5h23M97 524.5h83M181 524.5h41M223 524.5h50M274 524.5h229M504 524.5h60M566 524.5h38M605 524.5h12M97 525.5h80M178 525.5h439M97 526.5h72M170 526.5h15M186 526.5h41M228 526.5h64M293 526.5h324M97 527.5h307M405 527.5h57M463 527.5h20M485 527.5h35M521 527.5h83M608 527.5h9M97 528.5h55M153 528.5h3M157 528.5h460M97 529.5h156M254 529.5h44M299 529.5h74M374 529.5h243M97 530.5h520M97 531.5h520M97 532.5h520M97 533.5h520M97 534.5h520M97 535.5h520M97 536.5h520M97 537.5h520M97 538.5h520M97 539.5h520M97 540.5h520M97 541.5h520M97 542.5h520M97 543.5h520M97 544.5h520M97 545.5h520M97 546.5h520M97 547.5h520M97 548.5h520M97 549.5h520M97 550.5h520M97 551.5h520M97 552.5h520M97 553.5h520M97 554.5h520M97 555.5h520M97 556.5h520M97 557.5h520M97 558.5h520M97 559.5h520M97 560.5h520M97 561.5h520M97 562.5h520M97 563.5h520M97 564.5h520M97 565.5h520M97 566.5h520M97 567.5h520M97 568.5h520M97 569.5h520M97 570.5h520M97 571.5h520M97 572.5h520M97 573.5h520M97 574.5h520M97 575.5h520M97 576.5h520M100.7 511.4L108 484.2L113.2 496.7L120 508M148 508L157.2 499.9L165.5 491.5L171.8 482.5L179.2 484.2L186.5 494.6L194.8 505.1L200 510M212 508L224.1 493.6L235 505M262 508L270.2 503L288 487.3L299.5 496.7L309.9 492.6L318.4 489.3L329.1 495.2L340 503L349.5 507.2M350 510L357.8 502.4L371 492.8L383 483.8L394.9 492.8L405.7 502.4L415.2 494.5L426 505M466 510L477.4 501.2L490 494L502.5 486.9L520.5 495.2L532.4 502.4L542 492.4L553 502L560 508M585 506L596 498L606.6 493.3L616.6 495.2" stroke="#b3b3b3" stroke-width="1" fill="none" shape-rendering="crispEdges"/>
<polyline points="97.5,574.5 108.09,573.1 118.68,573.72 129.28,574.2 139.87,574.2 150.46,573.5 161.05,575.8 171.64,573.5 182.23,570.4 192.83,568.3 203.42,568.3 214.01,570.6 224.6,563.7 235.19,559.5 245.79,557.8 256.38,557.8 266.97,553.7 277.56,555.3 288.15,542.1 298.74,547 309.34,544.9 319.93,536.4 330.52,543.1 341.11,535.2 351.7,535.2 362.3,539 372.89,533 383.48,526.8 394.07,515.6 404.66,533 415.26,529.2 425.85,529.2 436.44,519.2 447.03,514.9 457.62,498.8 468.21,495.7 478.81,490.5 489.4,497.6 499.99,483.8 510.58,471.8 521.17,463.7 531.77,458.2 542.36,452.2 552.95,437.8 563.54,434.2 574.13,418.2 584.72,416.8 595.32,411.5 605.91,403.2 616.5,398.4" fill="none" stroke="#000" stroke-width="1" stroke-dasharray="7 1.2" shape-rendering="crispEdges"/>
<g font-size="18" fill="#000" stroke="#000" stroke-width="0.15"><text transform="translate(92.8,583.3) scale(0.965,1)" text-anchor="end">0</text><text transform="translate(92.8,501.94) scale(0.965,1)" text-anchor="end">5</text><text transform="translate(92.8,420.57) scale(0.965,1)" text-anchor="end">10</text><text transform="translate(139.87,598.7) scale(0.965,1)" text-anchor="middle">50</text><text transform="translate(192.83,598.7) scale(0.965,1)" text-anchor="middle">100</text><text transform="translate(245.79,598.7) scale(0.965,1)" text-anchor="middle">150</text><text transform="translate(298.74,598.7) scale(0.965,1)" text-anchor="middle">200</text><text transform="translate(351.7,598.7) scale(0.965,1)" text-anchor="middle">250</text><text transform="translate(404.66,598.7) scale(0.965,1)" text-anchor="middle">300</text><text transform="translate(457.62,598.7) scale(0.965,1)" text-anchor="middle">350</text><text transform="translate(510.58,598.7) scale(0.965,1)" text-anchor="middle">400</text><text transform="translate(563.54,598.7) scale(0.965,1)" text-anchor="middle">450</text><text transform="translate(616.5,598.7) scale(0.965,1)" text-anchor="middle">500</text></g>
<g font-size="17.5" fill="#000"><text x="270.2" y="622.9" textLength="23.600000000000023" lengthAdjust="spacingAndGlyphs">no.</text><text x="301.5" y="622.9" textLength="72.69999999999999" lengthAdjust="spacingAndGlyphs">of traces</text><text x="400.6" y="622.9" textLength="41.39999999999996" lengthAdjust="spacingAndGlyphs">1000</text></g>
<path d="M383.4 614.2L391.8 622.4M391.8 614.2L383.4 622.4" stroke="#000" stroke-width="1.05" fill="none"/>
<text transform="translate(65.8,486.2) rotate(-90)" x="0" y="0" text-anchor="middle" font-size="19" textLength="76.6" lengthAdjust="spacingAndGlyphs" stroke="#fff" stroke-width="0.25">-log10(p)</text>
<path d="M879 397h1v5h-1zM1038 397h1v5h-1zM1091 397h1v5h-1zM1144 397h1v5h-1zM1197 397h1v5h-1zM1250 397h1v5h-1zM785 533h5v1h-5zM785 490h5v1h-5zM785 405h5v1h-5zM1298 533h5v1h-5zM1298 490h5v1h-5zM1298 405h5v1h-5z" fill="#000" shape-rendering="crispEdges"/>
<path d="M953 531.5h1M784 532.5h1M858 532.5h1M910 532.5h5M948 532.5h5M954 532.5h1M784 533.5h1M856 533.5h9M908 533.5h2M915 533.5h4M944 533.5h4M955 533.5h1M785 534.5h1M794 534.5h2M805 534.5h1M853 534.5h4M858 534.5h3M865 534.5h5M907 534.5h1M919 534.5h4M942 534.5h2M950 534.5h5M956 534.5h1M972 534.5h6M984 534.5h4M993 534.5h10M1175 534.5h3M1249 534.5h1M785 535.5h1M794 535.5h2M805 535.5h3M837 535.5h16M855 535.5h1M857 535.5h1M860 535.5h3M870 535.5h1M877 535.5h6M905 535.5h2M923 535.5h4M941 535.5h9M955 535.5h3M969 535.5h3M973 535.5h3M978 535.5h4M983 535.5h1M988 535.5h7M1001 535.5h7M1090 535.5h3M1174 535.5h1M1178 535.5h20M1214 535.5h10M1245 535.5h8M1292 535.5h2M1296 535.5h7M786 536.5h1M794 536.5h3M804 536.5h1M808 536.5h1M836 536.5h1M848 536.5h3M852 536.5h5M858 536.5h7M871 536.5h1M874 536.5h3M883 536.5h4M903 536.5h2M921 536.5h2M927 536.5h5M934 536.5h9M945 536.5h1M957 536.5h4M967 536.5h6M976 536.5h3M982 536.5h3M986 536.5h3M990 536.5h3M1006 536.5h5M1089 536.5h1M1093 536.5h4M1172 536.5h2M1181 536.5h3M1197 536.5h7M1209 536.5h5M1224 536.5h9M1238 536.5h11M1250 536.5h6M1266 536.5h7M1289 536.5h14M786 537.5h1M793 537.5h6M803 537.5h1M809 537.5h1M834 537.5h2M837 537.5h1M847 537.5h1M852 537.5h1M855 537.5h5M863 537.5h7M871 537.5h10M887 537.5h4M900 537.5h1M902 537.5h1M919 537.5h6M932 537.5h2M936 537.5h4M946 537.5h2M958 537.5h1M961 537.5h8M979 537.5h3M985 537.5h1M990 537.5h1M993 537.5h3M1009 537.5h4M1025 537.5h3M1087 537.5h2M1097 537.5h3M1171 537.5h1M1177 537.5h4M1199 537.5h1M1204 537.5h5M1223 537.5h22M1253 537.5h13M1273 537.5h3M1286 537.5h11M784 538.5h1M787 538.5h1M793 538.5h3M797 538.5h1M799 538.5h3M803 538.5h1M810 538.5h2M824 538.5h4M833 538.5h1M836 538.5h1M838 538.5h2M846 538.5h1M851 538.5h6M858 538.5h16M881 538.5h1M888 538.5h3M899 538.5h3M909 538.5h3M917 538.5h3M923 538.5h1M925 538.5h2M933 538.5h3M937 538.5h1M948 538.5h2M959 538.5h1M961 538.5h5M979 538.5h1M982 538.5h3M988 538.5h2M996 538.5h4M1011 538.5h5M1017 538.5h1M1020 538.5h5M1028 538.5h2M1036 538.5h4M1048 538.5h3M1086 538.5h1M1100 538.5h5M1169 538.5h2M1173 538.5h4M1200 538.5h1M1218 538.5h5M1227 538.5h20M1251 538.5h13M1276 538.5h3M1283 538.5h5M1295 538.5h8M784 539.5h1M787 539.5h1M792 539.5h5M798 539.5h1M802 539.5h2M812 539.5h1M815 539.5h3M822 539.5h2M826 539.5h1M828 539.5h2M832 539.5h1M836 539.5h1M840 539.5h1M845 539.5h1M847 539.5h4M854 539.5h8M865 539.5h1M867 539.5h1M871 539.5h2M874 539.5h1M882 539.5h2M885 539.5h8M897 539.5h3M902 539.5h7M912 539.5h2M916 539.5h1M918 539.5h1M924 539.5h1M927 539.5h2M930 539.5h4M936 539.5h1M942 539.5h2M950 539.5h2M953 539.5h2M957 539.5h4M962 539.5h1M966 539.5h2M974 539.5h2M978 539.5h1M985 539.5h4M995 539.5h4M1000 539.5h3M1013 539.5h8M1030 539.5h1M1033 539.5h3M1040 539.5h2M1046 539.5h2M1051 539.5h6M1059 539.5h3M1085 539.5h1M1101 539.5h1M1105 539.5h7M1121 539.5h5M1153 539.5h4M1167 539.5h6M1184 539.5h3M1201 539.5h2M1215 539.5h4M1224 539.5h3M1231 539.5h2M1246 539.5h5M1252 539.5h3M1260 539.5h15M1277 539.5h7M1295 539.5h8M784 540.5h5M791 540.5h5M797 540.5h1M799 540.5h1M802 540.5h1M804 540.5h6M813 540.5h2M818 540.5h1M820 540.5h2M825 540.5h3M830 540.5h2M835 540.5h3M841 540.5h1M844 540.5h1M846 540.5h18M865 540.5h5M872 540.5h2M875 540.5h29M914 540.5h4M919 540.5h7M928 540.5h3M934 540.5h2M939 540.5h3M944 540.5h2M952 540.5h7M960 540.5h2M963 540.5h7M971 540.5h9M984 540.5h2M989 540.5h3M993 540.5h2M999 540.5h10M1013 540.5h11M1026 540.5h2M1031 540.5h2M1042 540.5h25M1083 540.5h2M1099 540.5h2M1102 540.5h2M1112 540.5h5M1118 540.5h3M1126 540.5h9M1138 540.5h31M1180 540.5h4M1187 540.5h1M1203 540.5h1M1213 540.5h5M1219 540.5h8M1229 540.5h2M1247 540.5h35M1291 540.5h4M1302 540.5h1M784 541.5h1M788 541.5h3M792 541.5h5M798 541.5h4M803 541.5h4M810 541.5h7M818 541.5h3M824 541.5h1M826 541.5h1M828 541.5h11M840 541.5h39M881 541.5h7M889 541.5h1M891 541.5h6M904 541.5h1M911 541.5h3M915 541.5h14M930 541.5h2M934 541.5h5M946 541.5h1M951 541.5h1M955 541.5h12M968 541.5h6M975 541.5h2M980 541.5h5M990 541.5h5M1003 541.5h3M1007 541.5h7M1015 541.5h31M1047 541.5h4M1057 541.5h5M1064 541.5h10M1082 541.5h1M1097 541.5h25M1124 541.5h5M1132 541.5h6M1143 541.5h5M1149 541.5h3M1162 541.5h18M1184 541.5h7M1196 541.5h2M1204 541.5h1M1209 541.5h14M1227 541.5h2M1240 541.5h7M1259 541.5h3M1263 541.5h3M1268 541.5h11M1281 541.5h4M1287 541.5h4M1299 541.5h4M784 542.5h2M788 542.5h9M798 542.5h1M800 542.5h8M811 542.5h2M814 542.5h4M821 542.5h20M842 542.5h3M846 542.5h29M876 542.5h13M891 542.5h5M897 542.5h3M905 542.5h1M909 542.5h12M922 542.5h27M950 542.5h26M977 542.5h2M980 542.5h2M984 542.5h24M1009 542.5h25M1035 542.5h1M1040 542.5h42M1090 542.5h10M1105 542.5h12M1118 542.5h6M1136 542.5h2M1140 542.5h3M1146 542.5h3M1151 542.5h11M1169 542.5h20M1190 542.5h22M1214 542.5h5M1223 542.5h30M1257 542.5h8M1266 542.5h2M1272 542.5h3M1279 542.5h16M1296 542.5h6M784 543.5h14M799 543.5h12M815 543.5h25M841 543.5h50M893 543.5h2M896 543.5h18M917 543.5h25M946 543.5h24M971 543.5h10M986 543.5h2M991 543.5h28M1021 543.5h71M1094 543.5h3M1100 543.5h3M1107 543.5h14M1122 543.5h4M1133 543.5h18M1162 543.5h65M1229 543.5h7M1241 543.5h17M1260 543.5h43M784 544.5h5M790 544.5h20M811 544.5h6M818 544.5h2M822 544.5h96M920 544.5h7M928 544.5h21M950 544.5h18M969 544.5h17M988 544.5h7M998 544.5h17M1016 544.5h63M1083 544.5h13M1098 544.5h2M1103 544.5h4M1109 544.5h4M1114 544.5h74M1189 544.5h14M1205 544.5h43M1253 544.5h24M1278 544.5h25M784 545.5h9M794 545.5h73M868 545.5h15M884 545.5h17M902 545.5h30M933 545.5h5M939 545.5h37M977 545.5h92M1073 545.5h36M1113 545.5h3M1118 545.5h75M1194 545.5h2M1197 545.5h69M1267 545.5h1M1270 545.5h13M1285 545.5h18M784 546.5h8M794 546.5h92M887 546.5h2M892 546.5h18M911 546.5h1M914 546.5h6M921 546.5h1M923 546.5h11M935 546.5h5M941 546.5h38M981 546.5h50M1032 546.5h11M1044 546.5h59M1105 546.5h8M1116 546.5h8M1126 546.5h42M1169 546.5h134M784 547.5h323M1108 547.5h14M1123 547.5h15M1141 547.5h40M1184 547.5h6M1191 547.5h2M1194 547.5h109M784 548.5h140M925 548.5h378M784 549.5h519M784 550.5h519M784 551.5h519M784 552.5h519M784 553.5h519M784 554.5h519M784 555.5h519M784 556.5h519M784 557.5h519M784 558.5h519M784 559.5h519M784 560.5h519M784 561.5h519M784 562.5h519M784 563.5h519M784 564.5h519M784 565.5h519M784 566.5h519M784 567.5h519M784 568.5h519M784 569.5h519M784 570.5h519M784 571.5h519M784 572.5h519M784 573.5h519M784 574.5h519M784 575.5h519M784 576.5h519M911.3 541.7L921.9 531L932.5 521.2L943 532.6L953.6 537L964.2 541.2M848 541.7L858.5 529.2L869.1 541.7M1080.4 540L1091 533.3L1101.5 527L1112.1 521L1122.7 517L1133.2 517L1143.8 519.5L1154.4 521.3L1164.9 524.5L1175.5 528L1186.1 534.5L1196.6 540M1048.7 541L1059.3 534.5L1069.8 526.1L1080.4 529.5L1091 533.3M1238.9 540L1249.5 533.3L1260 531.5L1270.6 530L1281.2 528.5L1291.7 527.3L1302.3 527.3" stroke="#b3b3b3" stroke-width="1" fill="none" shape-rendering="crispEdges"/>
<polyline points="784.5,574.6 795.09,571.2 805.68,570.7 816.28,571.9 826.87,572.3 837.46,572.3 848.05,571.2 858.64,568.5 869.23,568.9 879.83,566.6 890.42,562.6 901.01,562.1 911.6,556.9 922.19,554.2 932.79,550.1 943.38,546.7 953.97,544 964.56,541.7 975.15,534.9 985.74,528.5 996.34,531 1006.93,527 1017.52,522.5 1028.11,503.4 1038.7,493.8 1049.3,483.1 1059.89,475.4 1070.48,469.9 1081.07,476.4 1091.66,464.6 1102.26,466.3 1112.85,467 1123.44,464.6 1134.03,460.3 1144.62,466.8 1155.21,461.5 1165.81,463.9 1176.4,463.9 1186.99,446 1197.58,436.4 1208.17,430.4 1218.77,418.5 1229.36,410.8 1239.95,416.1 1250.54,418 1261.13,423.7 1271.72,428.8 1282.32,418 1292.91,398.2 1303.5,397" fill="none" stroke="#000" stroke-width="1" stroke-dasharray="7 1.2" shape-rendering="crispEdges"/>
<g font-size="18" fill="#000" stroke="#000" stroke-width="0.15"><text transform="translate(779.8,583.3) scale(0.965,1)" text-anchor="end">0</text><text transform="translate(779.8,540.68) scale(0.965,1)" text-anchor="end">5</text><text transform="translate(779.8,498.06) scale(0.965,1)" text-anchor="end">10</text><text transform="translate(779.8,455.44) scale(0.965,1)" text-anchor="end">15</text><text transform="translate(779.8,412.82) scale(0.965,1)" text-anchor="end">20</text><text transform="translate(826.87,598.7) scale(0.965,1)" text-anchor="middle">50</text><text transform="translate(879.83,598.7) scale(0.965,1)" text-anchor="middle">100</text><text transform="translate(932.79,598.7) scale(0.965,1)" text-anchor="middle">150</text><text transform="translate(985.74,598.7) scale(0.965,1)" text-anchor="middle">200</text><text transform="translate(1038.7,598.7) scale(0.965,1)" text-anchor="middle">250</text><text transform="translate(1091.66,598.7) scale(0.965,1)" text-anchor="middle">300</text><text transform="translate(1144.62,598.7) scale(0.965,1)" text-anchor="middle">350</text><text transform="translate(1197.58,598.7) scale(0.965,1)" text-anchor="middle">400</text><text transform="translate(1250.54,598.7) scale(0.965,1)" text-anchor="middle">450</text><text transform="translate(1303.5,598.7) scale(0.965,1)" text-anchor="middle">500</text></g>
<g font-size="17.5" fill="#000"><text x="957.2" y="622.9" textLength="23.600000000000023" lengthAdjust="spacingAndGlyphs">no.</text><text x="988.5" y="622.9" textLength="72.69999999999999" lengthAdjust="spacingAndGlyphs">of traces</text><text x="1087.6" y="622.9" textLength="41.39999999999996" lengthAdjust="spacingAndGlyphs">1000</text></g>
<path d="M1070.4 614.2L1078.8 622.4M1078.8 614.2L1070.4 622.4" stroke="#000" stroke-width="1.05" fill="none"/>
<text transform="translate(752.8,486.2) rotate(-90)" x="0" y="0" text-anchor="middle" font-size="19" textLength="76.6" lengthAdjust="spacingAndGlyphs" stroke="#fff" stroke-width="0.25">-log10(p)</text>
<path d="M616 765h1v179h-1zM351 765h1v5h-1zM404 765h1v5h-1zM510 765h1v5h-1zM563 765h1v5h-1zM98 874h5v1h-5zM98 805h5v1h-5zM612 874h5v1h-5zM612 805h5v1h-5z" fill="#000" shape-rendering="crispEdges"/>
<path d="M108 906.5h1M192 906.5h1M235 906.5h2M97 907.5h1M102 907.5h7M191 907.5h1M193 907.5h1M234 907.5h1M237 907.5h7M415 907.5h1M97 908.5h5M107 908.5h3M189 908.5h2M194 908.5h1M212 908.5h6M232 908.5h2M244 908.5h5M413 908.5h2M416 908.5h2M581 908.5h23M97 909.5h2M106 909.5h1M109 909.5h1M187 909.5h2M194 909.5h1M210 909.5h2M218 909.5h3M231 909.5h1M249 909.5h5M309 909.5h1M339 909.5h5M410 909.5h3M418 909.5h3M531 909.5h2M553 909.5h2M578 909.5h4M583 909.5h5M598 909.5h9M97 910.5h2M106 910.5h1M109 910.5h2M150 910.5h1M159 910.5h2M170 910.5h3M186 910.5h1M195 910.5h1M208 910.5h2M221 910.5h5M230 910.5h1M254 910.5h5M275 910.5h5M296 910.5h13M310 910.5h1M318 910.5h5M336 910.5h3M344 910.5h5M408 910.5h2M421 910.5h3M435 910.5h2M477 910.5h11M510 910.5h2M529 910.5h2M533 910.5h3M551 910.5h2M555 910.5h8M572 910.5h11M603 910.5h11M97 911.5h3M106 911.5h1M109 911.5h1M111 911.5h1M129 911.5h30M161 911.5h1M164 911.5h8M173 911.5h4M180 911.5h3M184 911.5h2M196 911.5h1M207 911.5h1M222 911.5h1M224 911.5h3M229 911.5h1M252 911.5h4M258 911.5h12M271 911.5h4M277 911.5h19M304 911.5h2M308 911.5h5M317 911.5h2M321 911.5h1M323 911.5h5M329 911.5h2M334 911.5h11M349 911.5h5M406 911.5h2M424 911.5h11M437 911.5h5M447 911.5h2M474 911.5h3M488 911.5h3M504 911.5h6M512 911.5h10M527 911.5h2M536 911.5h3M549 911.5h2M563 911.5h15M595 911.5h4M609 911.5h8M98 912.5h2M105 912.5h1M110 912.5h2M128 912.5h1M144 912.5h3M149 912.5h3M158 912.5h12M172 912.5h27M205 912.5h2M217 912.5h9M227 912.5h3M249 912.5h3M254 912.5h1M262 912.5h15M286 912.5h5M294 912.5h6M301 912.5h3M308 912.5h27M345 912.5h5M352 912.5h15M380 912.5h6M400 912.5h18M423 912.5h3M427 912.5h5M442 912.5h6M449 912.5h9M472 912.5h2M478 912.5h1M491 912.5h1M499 912.5h5M510 912.5h17M531 912.5h2M539 912.5h4M547 912.5h20M571 912.5h9M592 912.5h3M599 912.5h10M610 912.5h4M97 913.5h4M105 913.5h1M107 913.5h2M110 913.5h1M112 913.5h8M127 913.5h1M142 913.5h2M146 913.5h3M150 913.5h5M158 913.5h5M164 913.5h1M169 913.5h4M174 913.5h1M176 913.5h5M184 913.5h2M190 913.5h2M193 913.5h1M197 913.5h1M199 913.5h6M210 913.5h7M218 913.5h2M223 913.5h6M230 913.5h3M235 913.5h44M283 913.5h7M299 913.5h9M313 913.5h5M321 913.5h16M344 913.5h37M385 913.5h5M393 913.5h9M409 913.5h3M413 913.5h18M432 913.5h5M439 913.5h18M458 913.5h70M529 913.5h50M580 913.5h18M602 913.5h8M612 913.5h2M97 914.5h5M104 914.5h17M126 914.5h1M137 914.5h5M144 914.5h2M147 914.5h3M152 914.5h2M155 914.5h7M163 914.5h6M170 914.5h23M194 914.5h1M198 914.5h1M202 914.5h8M211 914.5h2M215 914.5h1M217 914.5h1M219 914.5h13M233 914.5h8M242 914.5h17M264 914.5h21M286 914.5h2M289 914.5h4M296 914.5h3M303 914.5h20M325 914.5h2M335 914.5h1M337 914.5h9M347 914.5h4M352 914.5h12M372 914.5h5M388 914.5h10M403 914.5h11M417 914.5h12M430 914.5h41M473 914.5h6M480 914.5h4M489 914.5h4M494 914.5h1M497 914.5h35M536 914.5h4M544 914.5h2M547 914.5h39M587 914.5h3M591 914.5h3M597 914.5h11M610 914.5h7M97 915.5h17M117 915.5h1M119 915.5h3M126 915.5h1M133 915.5h11M145 915.5h3M153 915.5h3M159 915.5h15M176 915.5h3M180 915.5h4M186 915.5h5M192 915.5h8M201 915.5h2M209 915.5h3M215 915.5h14M230 915.5h24M259 915.5h30M291 915.5h12M307 915.5h12M321 915.5h12M336 915.5h109M450 915.5h2M453 915.5h47M504 915.5h55M561 915.5h5M567 915.5h50M97 916.5h8M106 916.5h2M109 916.5h17M128 916.5h9M139 916.5h14M154 916.5h1M156 916.5h1M158 916.5h24M183 916.5h45M229 916.5h14M245 916.5h18M265 916.5h2M268 916.5h55M325 916.5h10M336 916.5h76M413 916.5h15M430 916.5h6M437 916.5h17M457 916.5h95M553 916.5h18M574 916.5h43M97 917.5h7M105 917.5h8M114 917.5h7M122 917.5h21M144 917.5h4M150 917.5h20M171 917.5h22M194 917.5h2M197 917.5h53M251 917.5h6M259 917.5h10M273 917.5h9M284 917.5h24M309 917.5h5M317 917.5h300M97 918.5h35M134 918.5h39M174 918.5h97M272 918.5h3M276 918.5h23M300 918.5h109M410 918.5h9M420 918.5h197M97 919.5h298M396 919.5h221M97 920.5h68M166 920.5h451M97 921.5h520M97 922.5h520M97 923.5h520M97 924.5h520M97 925.5h520M97 926.5h520M97 927.5h520M97 928.5h520M97 929.5h520M97 930.5h520M97 931.5h520M97 932.5h520M97 933.5h520M97 934.5h520M97 935.5h520M97 936.5h520M97 937.5h520M97 938.5h520M97 939.5h520M97 940.5h520M97 941.5h520M97 942.5h520M97 943.5h520M118.7 916L129.3 910L139.9 907.5L150.4 902.9L161 910.5L171.6 913L182.2 916M394.1 914.9L404.7 910L415.3 905.1L425.8 909.1L436.4 911.5L447 916" stroke="#b3b3b3" stroke-width="1" fill="none" shape-rendering="crispEdges"/>
<polyline points="97.5,942.7 108.09,942.7 118.68,937.6 129.28,934.2 139.87,935.3 150.46,929.5 161.05,934.2 171.64,933 182.23,931.8 192.83,928.4 203.42,923.7 214.01,918.4 224.6,918.4 235.19,921.4 245.79,918.6 256.38,916.3 266.97,911 277.56,911 288.15,911 298.74,907.1 309.34,898.3 319.93,891.8 330.52,887.8 341.11,891.2 351.7,882.4 362.3,872 372.89,863.9 383.48,859.7 394.07,853.5 404.66,855.1 415.26,848.4 425.85,851.2 436.44,851.2 447.03,848.8 457.62,848.4 468.21,850 478.81,849.5 489.4,848.4 499.99,840.7 510.58,828 521.17,823.4 531.77,809.4 542.36,810.6 552.95,803.7 563.54,796.7 574.13,788.6 584.72,783.3 595.32,775.9 605.91,772.4 616.5,765.4" fill="none" stroke="#000" stroke-width="1" stroke-dasharray="7 1.2" shape-rendering="crispEdges"/>
<g font-size="18" fill="#000" stroke="#000" stroke-width="0.15"><text transform="translate(92.8,950.3) scale(0.965,1)" text-anchor="end">0</text><text transform="translate(92.8,881.31) scale(0.965,1)" text-anchor="end">10</text><text transform="translate(92.8,812.32) scale(0.965,1)" text-anchor="end">20</text><text transform="translate(139.87,965.7) scale(0.965,1)" text-anchor="middle">50</text><text transform="translate(192.83,965.7) scale(0.965,1)" text-anchor="middle">100</text><text transform="translate(245.79,965.7) scale(0.965,1)" text-anchor="middle">150</text><text transform="translate(298.74,965.7) scale(0.965,1)" text-anchor="middle">200</text><text transform="translate(351.7,965.7) scale(0.965,1)" text-anchor="middle">250</text><text transform="translate(404.66,965.7) scale(0.965,1)" text-anchor="middle">300</text><text transform="translate(457.62,965.7) scale(0.965,1)" text-anchor="middle">350</text><text transform="translate(510.58,965.7) scale(0.965,1)" text-anchor="middle">400</text><text transform="translate(563.54,965.7) scale(0.965,1)" text-anchor="middle">450</text><text transform="translate(616.5,965.7) scale(0.965,1)" text-anchor="middle">500</text></g>
<g font-size="17.5" fill="#000"><text x="270.2" y="989.9" textLength="23.600000000000023" lengthAdjust="spacingAndGlyphs">no.</text><text x="301.5" y="989.9" textLength="72.69999999999999" lengthAdjust="spacingAndGlyphs">of traces</text><text x="400.6" y="989.9" textLength="41.39999999999996" lengthAdjust="spacingAndGlyphs">1000</text></g>
<path d="M383.4 981.2L391.8 989.4M391.8 981.2L383.4 989.4" stroke="#000" stroke-width="1.05" fill="none"/>
<text transform="translate(65.8,853.7) rotate(-90)" x="0" y="0" text-anchor="middle" font-size="19" textLength="76.6" lengthAdjust="spacingAndGlyphs" stroke="#fff" stroke-width="0.25">-log10(p)</text>
<path d="M879 765h1v5h-1zM1038 765h1v5h-1zM1091 765h1v5h-1zM1144 765h1v5h-1zM1197 765h1v5h-1zM1250 765h1v5h-1zM785 794h5v1h-5zM1298 794h5v1h-5z" fill="#000" shape-rendering="crispEdges"/>
<path d="M1035 862.5h5M1215 862.5h3M1291 862.5h4M1032 863.5h3M1040 863.5h1M1046 863.5h3M1209 863.5h6M1218 863.5h1M1260 863.5h1M1289 863.5h2M1295 863.5h7M805 864.5h2M1027 864.5h5M1039 864.5h7M1049 864.5h2M1206 864.5h3M1219 864.5h1M1228 864.5h5M1258 864.5h2M1261 864.5h10M1287 864.5h2M1302 864.5h1M804 865.5h1M807 865.5h1M815 865.5h2M868 865.5h2M994 865.5h4M1025 865.5h3M1029 865.5h1M1037 865.5h2M1043 865.5h2M1051 865.5h1M1101 865.5h5M1205 865.5h1M1220 865.5h1M1227 865.5h1M1233 865.5h7M1255 865.5h3M1271 865.5h1M1285 865.5h2M803 866.5h1M808 866.5h1M814 866.5h1M816 866.5h1M867 866.5h1M870 866.5h1M992 866.5h2M998 866.5h1M1014 866.5h4M1021 866.5h5M1030 866.5h1M1035 866.5h2M1045 866.5h2M1052 866.5h1M1099 866.5h2M1106 866.5h8M1204 866.5h1M1221 866.5h1M1226 866.5h1M1240 866.5h4M1253 866.5h2M1272 866.5h1M1282 866.5h3M802 867.5h1M809 867.5h1M813 867.5h1M817 867.5h1M826 867.5h1M865 867.5h2M871 867.5h1M991 867.5h1M999 867.5h2M1010 867.5h4M1017 867.5h4M1024 867.5h1M1031 867.5h1M1033 867.5h2M1047 867.5h1M1053 867.5h1M1098 867.5h1M1114 867.5h5M1203 867.5h1M1222 867.5h1M1224 867.5h2M1244 867.5h5M1250 867.5h3M1273 867.5h1M1281 867.5h1M801 868.5h1M810 868.5h3M816 868.5h2M824 868.5h2M827 868.5h1M864 868.5h1M872 868.5h2M989 868.5h2M1001 868.5h1M1006 868.5h4M1016 868.5h1M1018 868.5h1M1023 868.5h1M1031 868.5h2M1037 868.5h2M1048 868.5h5M1054 868.5h2M1068 868.5h4M1097 868.5h1M1119 868.5h5M1139 868.5h7M1164 868.5h1M1202 868.5h1M1222 868.5h2M1249 868.5h1M1274 868.5h1M1279 868.5h2M784 869.5h1M801 869.5h1M810 869.5h3M815 869.5h1M817 869.5h2M822 869.5h2M828 869.5h1M837 869.5h3M863 869.5h1M874 869.5h1M920 869.5h5M974 869.5h1M988 869.5h1M1002 869.5h1M1004 869.5h2M1016 869.5h1M1018 869.5h1M1022 869.5h1M1029 869.5h2M1033 869.5h1M1035 869.5h2M1039 869.5h1M1053 869.5h5M1065 869.5h3M1072 869.5h3M1095 869.5h2M1124 869.5h15M1143 869.5h1M1146 869.5h3M1162 869.5h2M1165 869.5h6M1201 869.5h1M1222 869.5h2M1275 869.5h1M1278 869.5h6M784 870.5h1M800 870.5h1M809 870.5h2M813 870.5h1M815 870.5h1M818 870.5h4M828 870.5h1M840 870.5h7M862 870.5h1M875 870.5h1M919 870.5h1M925 870.5h4M953 870.5h2M971 870.5h3M975 870.5h1M986 870.5h2M1002 870.5h3M1015 870.5h14M1034 870.5h1M1040 870.5h1M1057 870.5h3M1063 870.5h2M1069 870.5h1M1075 870.5h3M1094 870.5h1M1129 870.5h2M1135 870.5h1M1141 870.5h2M1144 870.5h1M1149 870.5h2M1159 870.5h3M1164 870.5h1M1166 870.5h1M1171 870.5h7M1200 870.5h1M1221 870.5h1M1224 870.5h1M1276 870.5h3M1284 870.5h3M784 871.5h1M799 871.5h1M807 871.5h3M814 871.5h1M818 871.5h2M821 871.5h3M829 871.5h1M836 871.5h1M847 871.5h2M861 871.5h1M876 871.5h1M900 871.5h3M917 871.5h2M929 871.5h3M952 871.5h4M969 871.5h2M974 871.5h3M985 871.5h1M995 871.5h2M1000 871.5h2M1005 871.5h1M1012 871.5h3M1019 871.5h9M1032 871.5h2M1035 871.5h1M1041 871.5h1M1058 871.5h1M1060 871.5h3M1067 871.5h2M1070 871.5h2M1078 871.5h3M1090 871.5h4M1127 871.5h2M1136 871.5h1M1140 871.5h1M1145 871.5h1M1151 871.5h2M1156 871.5h3M1163 871.5h1M1167 871.5h1M1178 871.5h2M1198 871.5h2M1220 871.5h1M1225 871.5h1M1274 871.5h4M1287 871.5h3M784 872.5h2M795 872.5h1M798 872.5h1M805 872.5h2M808 872.5h1M813 872.5h1M815 872.5h3M819 872.5h1M824 872.5h5M830 872.5h1M836 872.5h1M848 872.5h1M860 872.5h1M868 872.5h3M877 872.5h1M899 872.5h1M903 872.5h3M915 872.5h2M932 872.5h13M950 872.5h3M955 872.5h4M961 872.5h4M967 872.5h2M972 872.5h2M976 872.5h2M983 872.5h2M993 872.5h7M1006 872.5h15M1028 872.5h2M1031 872.5h1M1036 872.5h1M1042 872.5h1M1058 872.5h3M1065 872.5h2M1072 872.5h1M1080 872.5h2M1088 872.5h2M1091 872.5h4M1125 872.5h2M1137 872.5h3M1146 872.5h1M1153 872.5h3M1162 872.5h1M1168 872.5h1M1180 872.5h3M1197 872.5h1M1219 872.5h1M1226 872.5h1M1271 872.5h4M1278 872.5h1M1290 872.5h2M784 873.5h2M794 873.5h2M797 873.5h1M805 873.5h1M807 873.5h1M813 873.5h1M816 873.5h1M819 873.5h2M826 873.5h1M829 873.5h3M835 873.5h1M849 873.5h1M859 873.5h1M868 873.5h2M871 873.5h1M878 873.5h1M898 873.5h1M906 873.5h2M914 873.5h1M942 873.5h9M957 873.5h6M965 873.5h2M970 873.5h2M978 873.5h2M982 873.5h1M991 873.5h4M996 873.5h3M1006 873.5h2M1013 873.5h1M1018 873.5h1M1021 873.5h1M1026 873.5h5M1037 873.5h1M1043 873.5h1M1057 873.5h1M1061 873.5h4M1073 873.5h2M1079 873.5h2M1082 873.5h2M1086 873.5h2M1089 873.5h2M1095 873.5h2M1101 873.5h1M1121 873.5h4M1136 873.5h2M1139 873.5h1M1147 873.5h1M1161 873.5h1M1169 873.5h1M1183 873.5h5M1191 873.5h6M1218 873.5h1M1226 873.5h1M1228 873.5h1M1268 873.5h3M1273 873.5h1M1278 873.5h1M1292 873.5h2M784 874.5h2M794 874.5h3M804 874.5h3M812 874.5h1M815 874.5h2M819 874.5h2M825 874.5h1M827 874.5h1M831 874.5h5M850 874.5h1M856 874.5h3M867 874.5h2M870 874.5h1M872 874.5h2M879 874.5h3M897 874.5h1M908 874.5h3M912 874.5h2M922 874.5h1M941 874.5h1M945 874.5h3M949 874.5h8M959 874.5h1M963 874.5h2M966 874.5h1M968 874.5h2M979 874.5h4M990 874.5h6M998 874.5h2M1004 874.5h2M1012 874.5h1M1016 874.5h14M1031 874.5h2M1038 874.5h12M1056 874.5h1M1059 874.5h7M1075 874.5h1M1077 874.5h2M1081 874.5h1M1084 874.5h2M1088 874.5h1M1097 874.5h2M1101 874.5h5M1113 874.5h8M1134 874.5h2M1140 874.5h2M1148 874.5h1M1160 874.5h1M1163 874.5h3M1169 874.5h1M1185 874.5h6M1203 874.5h15M1227 874.5h1M1229 874.5h6M1253 874.5h11M1266 874.5h2M1271 874.5h2M1279 874.5h1M1294 874.5h2M784 875.5h3M794 875.5h3M804 875.5h3M811 875.5h1M814 875.5h1M816 875.5h2M820 875.5h2M825 875.5h1M828 875.5h1M831 875.5h10M850 875.5h1M853 875.5h3M866 875.5h2M871 875.5h1M874 875.5h1M879 875.5h1M882 875.5h9M896 875.5h1M911 875.5h1M921 875.5h1M923 875.5h5M940 875.5h1M942 875.5h7M952 875.5h3M960 875.5h1M963 875.5h5M980 875.5h1M983 875.5h2M986 875.5h6M995 875.5h2M999 875.5h2M1002 875.5h2M1012 875.5h1M1014 875.5h3M1022 875.5h1M1024 875.5h2M1030 875.5h1M1033 875.5h3M1044 875.5h4M1049 875.5h7M1058 875.5h3M1063 875.5h8M1075 875.5h3M1082 875.5h2M1086 875.5h2M1099 875.5h3M1106 875.5h3M1111 875.5h2M1132 875.5h2M1142 875.5h1M1147 875.5h9M1160 875.5h1M1162 875.5h1M1166 875.5h1M1170 875.5h1M1184 875.5h1M1190 875.5h3M1197 875.5h6M1211 875.5h3M1218 875.5h14M1235 875.5h20M1264 875.5h7M1272 875.5h10M1296 875.5h7M785 876.5h2M793 876.5h4M803 876.5h5M811 876.5h1M814 876.5h3M818 876.5h1M820 876.5h2M824 876.5h1M826 876.5h5M832 876.5h1M834 876.5h1M838 876.5h1M841 876.5h4M850 876.5h3M866 876.5h1M872 876.5h1M875 876.5h2M878 876.5h1M880 876.5h2M891 876.5h5M907 876.5h9M920 876.5h1M928 876.5h5M939 876.5h6M947 876.5h2M951 876.5h1M955 876.5h1M961 876.5h2M964 876.5h5M979 876.5h1M981 876.5h1M985 876.5h1M987 876.5h1M990 876.5h1M994 876.5h1M997 876.5h1M1000 876.5h3M1011 876.5h1M1013 876.5h3M1022 876.5h3M1031 876.5h1M1035 876.5h4M1042 876.5h4M1050 876.5h2M1053 876.5h2M1056 876.5h4M1063 876.5h1M1066 876.5h1M1071 876.5h1M1073 876.5h2M1078 876.5h4M1083 876.5h1M1085 876.5h4M1099 876.5h1M1102 876.5h4M1109 876.5h3M1131 876.5h1M1143 876.5h4M1149 876.5h1M1153 876.5h1M1155 876.5h8M1167 876.5h1M1171 876.5h1M1183 876.5h1M1193 876.5h2M1196 876.5h1M1206 876.5h5M1226 876.5h1M1229 876.5h1M1232 876.5h7M1242 876.5h4M1255 876.5h13M1270 876.5h2M1281 876.5h16M1298 876.5h2M785 877.5h2M793 877.5h4M802 877.5h1M804 877.5h1M806 877.5h1M808 877.5h1M810 877.5h1M813 877.5h1M815 877.5h1M817 877.5h2M821 877.5h2M824 877.5h1M826 877.5h1M830 877.5h1M833 877.5h2M837 877.5h4M845 877.5h5M852 877.5h1M865 877.5h2M873 877.5h1M877 877.5h2M882 877.5h1M888 877.5h12M901 877.5h6M916 877.5h6M933 877.5h2M939 877.5h1M942 877.5h1M945 877.5h2M949 877.5h2M955 877.5h1M961 877.5h3M967 877.5h4M974 877.5h1M978 877.5h1M981 877.5h1M985 877.5h2M988 877.5h2M993 877.5h1M995 877.5h5M1001 877.5h1M1003 877.5h1M1006 877.5h8M1022 877.5h3M1032 877.5h1M1037 877.5h6M1046 877.5h1M1051 877.5h3M1056 877.5h2M1060 877.5h2M1064 877.5h1M1067 877.5h2M1071 877.5h3M1076 877.5h5M1083 877.5h2M1089 877.5h2M1098 877.5h1M1106 877.5h3M1112 877.5h1M1129 877.5h5M1150 877.5h3M1157 877.5h3M1163 877.5h5M1172 877.5h1M1182 877.5h1M1185 877.5h3M1195 877.5h11M1225 877.5h1M1230 877.5h1M1238 877.5h4M1256 877.5h2M1259 877.5h6M1284 877.5h2M1300 877.5h3M785 878.5h1M787 878.5h1M792 878.5h6M801 878.5h1M803 878.5h2M807 878.5h1M809 878.5h1M813 878.5h2M816 878.5h1M818 878.5h2M821 878.5h3M826 878.5h1M831 878.5h1M833 878.5h1M836 878.5h3M840 878.5h6M852 878.5h1M858 878.5h1M864 878.5h2M868 878.5h2M874 878.5h1M877 878.5h3M883 878.5h1M885 878.5h7M893 878.5h1M896 878.5h5M919 878.5h1M922 878.5h2M931 878.5h2M935 878.5h2M938 878.5h1M940 878.5h6M950 878.5h5M956 878.5h1M960 878.5h3M964 878.5h14M982 878.5h1M984 878.5h1M987 878.5h1M992 878.5h1M994 878.5h1M996 878.5h4M1002 878.5h1M1004 878.5h2M1010 878.5h4M1020 878.5h2M1023 878.5h1M1032 878.5h8M1042 878.5h2M1047 878.5h1M1051 878.5h1M1054 878.5h7M1062 878.5h1M1065 878.5h1M1069 878.5h16M1091 878.5h3M1097 878.5h1M1105 878.5h2M1109 878.5h5M1123 878.5h8M1134 878.5h3M1149 878.5h3M1157 878.5h2M1163 878.5h1M1166 878.5h5M1173 878.5h1M1182 878.5h1M1184 878.5h1M1188 878.5h1M1194 878.5h2M1197 878.5h3M1207 878.5h3M1224 878.5h1M1231 878.5h1M1237 878.5h1M1242 878.5h2M1253 878.5h7M1261 878.5h2M1264 878.5h4M1286 878.5h2M1298 878.5h3M1302 878.5h1M785 879.5h1M787 879.5h1M792 879.5h6M801 879.5h1M803 879.5h1M805 879.5h1M807 879.5h1M809 879.5h1M812 879.5h1M814 879.5h2M817 879.5h3M821 879.5h6M832 879.5h9M842 879.5h1M846 879.5h14M864 879.5h2M868 879.5h4M875 879.5h2M880 879.5h6M888 879.5h7M901 879.5h1M918 879.5h1M924 879.5h2M928 879.5h3M933 879.5h1M936 879.5h5M944 879.5h3M949 879.5h1M952 879.5h4M957 879.5h1M959 879.5h12M973 879.5h6M983 879.5h13M999 879.5h4M1004 879.5h28M1035 879.5h2M1040 879.5h1M1044 879.5h3M1048 879.5h3M1052 879.5h1M1054 879.5h3M1061 879.5h1M1063 879.5h2M1066 879.5h7M1076 879.5h1M1081 879.5h5M1094 879.5h5M1101 879.5h19M1121 879.5h2M1126 879.5h2M1132 879.5h2M1137 879.5h2M1148 879.5h1M1152 879.5h1M1155 879.5h2M1159 879.5h2M1162 879.5h1M1168 879.5h2M1171 879.5h4M1181 879.5h1M1183 879.5h1M1189 879.5h2M1193 879.5h2M1200 879.5h3M1205 879.5h2M1210 879.5h5M1223 879.5h1M1232 879.5h1M1235 879.5h2M1244 879.5h3M1250 879.5h3M1254 879.5h4M1263 879.5h2M1266 879.5h5M1288 879.5h2M1295 879.5h3M1302 879.5h1M786 880.5h3M792 880.5h7M800 880.5h1M803 880.5h1M805 880.5h4M810 880.5h1M812 880.5h1M814 880.5h10M825 880.5h3M833 880.5h3M838 880.5h1M840 880.5h4M847 880.5h1M849 880.5h1M854 880.5h2M858 880.5h3M863 880.5h2M866 880.5h2M869 880.5h1M872 880.5h2M876 880.5h1M879 880.5h3M886 880.5h3M891 880.5h3M895 880.5h3M902 880.5h1M917 880.5h1M920 880.5h9M932 880.5h6M940 880.5h2M944 880.5h1M946 880.5h3M950 880.5h2M953 880.5h9M970 880.5h26M1000 880.5h1M1002 880.5h2M1007 880.5h9M1017 880.5h8M1027 880.5h2M1036 880.5h6M1047 880.5h4M1052 880.5h3M1056 880.5h1M1062 880.5h2M1065 880.5h4M1077 880.5h5M1085 880.5h3M1096 880.5h7M1114 880.5h3M1120 880.5h4M1125 880.5h1M1128 880.5h17M1146 880.5h2M1153 880.5h3M1160 880.5h2M1169 880.5h9M1180 880.5h1M1182 880.5h1M1191 880.5h3M1203 880.5h3M1215 880.5h5M1222 880.5h1M1233 880.5h2M1247 880.5h3M1252 880.5h4M1265 880.5h2M1268 880.5h5M1290 880.5h5M1299 880.5h3M784 881.5h1M786 881.5h1M788 881.5h1M791 881.5h9M802 881.5h1M804 881.5h5M811 881.5h1M813 881.5h3M819 881.5h5M825 881.5h3M830 881.5h6M837 881.5h13M853 881.5h2M858 881.5h2M861 881.5h6M869 881.5h2M874 881.5h2M877 881.5h3M882 881.5h1M885 881.5h1M887 881.5h1M889 881.5h3M893 881.5h3M898 881.5h3M903 881.5h1M911 881.5h2M917 881.5h1M919 881.5h5M925 881.5h3M929 881.5h7M937 881.5h8M947 881.5h9M957 881.5h3M971 881.5h7M981 881.5h3M985 881.5h4M992 881.5h1M995 881.5h12M1008 881.5h1M1016 881.5h3M1020 881.5h1M1025 881.5h2M1028 881.5h2M1034 881.5h4M1042 881.5h5M1050 881.5h5M1057 881.5h2M1062 881.5h6M1077 881.5h7M1086 881.5h5M1094 881.5h11M1115 881.5h1M1117 881.5h3M1122 881.5h6M1131 881.5h8M1141 881.5h6M1150 881.5h3M1154 881.5h1M1159 881.5h1M1162 881.5h1M1165 881.5h7M1175 881.5h14M1191 881.5h3M1195 881.5h6M1203 881.5h1M1206 881.5h4M1220 881.5h4M1231 881.5h2M1234 881.5h1M1246 881.5h2M1249 881.5h5M1267 881.5h2M1271 881.5h8M1296 881.5h3M784 882.5h19M804 882.5h5M810 882.5h1M812 882.5h5M818 882.5h12M832 882.5h1M834 882.5h5M843 882.5h1M845 882.5h2M848 882.5h3M852 882.5h1M855 882.5h1M857 882.5h1M859 882.5h13M874 882.5h5M883 882.5h2M886 882.5h4M891 882.5h2M894 882.5h1M896 882.5h1M901 882.5h1M904 882.5h1M909 882.5h2M912 882.5h7M928 882.5h8M939 882.5h1M945 882.5h8M954 882.5h3M958 882.5h4M963 882.5h7M972 882.5h2M978 882.5h1M982 882.5h3M986 882.5h23M1015 882.5h2M1018 882.5h3M1024 882.5h7M1032 882.5h3M1038 882.5h2M1043 882.5h1M1047 882.5h3M1052 882.5h1M1054 882.5h3M1058 882.5h5M1066 882.5h13M1081 882.5h18M1100 882.5h4M1105 882.5h2M1116 882.5h8M1125 882.5h6M1134 882.5h2M1146 882.5h13M1163 882.5h2M1171 882.5h2M1179 882.5h3M1189 882.5h3M1194 882.5h2M1201 882.5h5M1208 882.5h6M1220 882.5h1M1224 882.5h4M1229 882.5h2M1235 882.5h1M1239 882.5h11M1251 882.5h3M1265 882.5h2M1269 882.5h3M1273 882.5h3M1279 882.5h4M1290 882.5h6M784 883.5h1M786 883.5h1M788 883.5h6M795 883.5h5M801 883.5h8M810 883.5h1M812 883.5h6M820 883.5h14M835 883.5h5M843 883.5h3M847 883.5h5M856 883.5h1M858 883.5h7M867 883.5h4M872 883.5h3M876 883.5h2M879 883.5h12M892 883.5h1M895 883.5h1M897 883.5h4M902 883.5h1M904 883.5h1M908 883.5h6M915 883.5h2M921 883.5h7M929 883.5h8M938 883.5h1M944 883.5h2M948 883.5h11M960 883.5h5M970 883.5h41M1013 883.5h2M1019 883.5h2M1023 883.5h1M1025 883.5h3M1029 883.5h3M1033 883.5h1M1040 883.5h2M1044 883.5h1M1051 883.5h1M1056 883.5h6M1068 883.5h10M1082 883.5h1M1084 883.5h5M1093 883.5h1M1098 883.5h8M1107 883.5h2M1112 883.5h6M1120 883.5h7M1128 883.5h13M1144 883.5h7M1153 883.5h10M1164 883.5h1M1172 883.5h2M1178 883.5h1M1180 883.5h4M1186 883.5h1M1189 883.5h1M1191 883.5h11M1203 883.5h1M1206 883.5h3M1211 883.5h7M1219 883.5h1M1228 883.5h1M1235 883.5h4M1243 883.5h2M1246 883.5h6M1254 883.5h3M1263 883.5h2M1272 883.5h2M1275 883.5h3M1283 883.5h3M1288 883.5h5M1294 883.5h2M784 884.5h1M787 884.5h1M789 884.5h2M792 884.5h2M796 884.5h4M801 884.5h1M803 884.5h5M809 884.5h1M812 884.5h6M820 884.5h1M822 884.5h6M829 884.5h5M835 884.5h5M842 884.5h1M844 884.5h1M846 884.5h1M848 884.5h2M851 884.5h2M856 884.5h7M864 884.5h1M867 884.5h4M872 884.5h2M875 884.5h23M899 884.5h1M901 884.5h3M905 884.5h1M907 884.5h3M913 884.5h3M917 884.5h2M920 884.5h3M929 884.5h2M933 884.5h1M936 884.5h9M946 884.5h3M951 884.5h1M953 884.5h1M955 884.5h7M965 884.5h1M968 884.5h25M998 884.5h16M1018 884.5h7M1026 884.5h4M1032 884.5h2M1036 884.5h8M1045 884.5h2M1048 884.5h1M1050 884.5h1M1054 884.5h3M1058 884.5h15M1076 884.5h1M1078 884.5h3M1083 884.5h1M1088 884.5h3M1092 884.5h1M1096 884.5h2M1099 884.5h5M1105 884.5h11M1117 884.5h6M1126 884.5h4M1131 884.5h14M1148 884.5h1M1150 884.5h8M1160 884.5h6M1173 884.5h3M1177 884.5h1M1182 884.5h11M1195 884.5h8M1209 884.5h11M1227 884.5h3M1232 884.5h3M1237 884.5h1M1239 884.5h7M1247 884.5h3M1252 884.5h2M1257 884.5h2M1260 884.5h11M1274 884.5h3M1278 884.5h2M1281 884.5h1M1286 884.5h4M1296 884.5h2M784 885.5h2M787 885.5h7M796 885.5h6M803 885.5h7M811 885.5h1M813 885.5h7M822 885.5h11M834 885.5h8M843 885.5h1M846 885.5h3M850 885.5h8M859 885.5h5M865 885.5h3M869 885.5h14M884 885.5h1M886 885.5h2M892 885.5h4M897 885.5h1M900 885.5h16M919 885.5h2M923 885.5h1M928 885.5h2M932 885.5h1M934 885.5h1M937 885.5h3M942 885.5h4M947 885.5h1M951 885.5h2M954 885.5h3M958 885.5h14M975 885.5h9M985 885.5h9M999 885.5h1M1002 885.5h5M1008 885.5h1M1010 885.5h22M1033 885.5h4M1039 885.5h1M1043 885.5h9M1053 885.5h1M1057 885.5h6M1064 885.5h2M1069 885.5h3M1073 885.5h4M1079 885.5h7M1089 885.5h4M1094 885.5h2M1098 885.5h28M1128 885.5h2M1133 885.5h13M1148 885.5h9M1158 885.5h2M1166 885.5h2M1174 885.5h12M1187 885.5h1M1189 885.5h6M1196 885.5h8M1206 885.5h4M1212 885.5h3M1216 885.5h6M1225 885.5h2M1229 885.5h4M1237 885.5h4M1242 885.5h2M1245 885.5h2M1254 885.5h2M1258 885.5h3M1268 885.5h4M1276 885.5h8M1285 885.5h11M1298 885.5h2M785 886.5h1M787 886.5h6M794 886.5h2M797 886.5h6M804 886.5h9M814 886.5h21M836 886.5h5M842 886.5h5M851 886.5h6M858 886.5h5M865 886.5h4M870 886.5h15M888 886.5h1M893 886.5h1M895 886.5h5M902 886.5h13M916 886.5h3M921 886.5h17M940 886.5h8M950 886.5h4M955 886.5h22M978 886.5h13M992 886.5h4M997 886.5h17M1016 886.5h4M1021 886.5h4M1026 886.5h1M1029 886.5h9M1039 886.5h1M1044 886.5h13M1058 886.5h1M1060 886.5h2M1063 886.5h6M1070 886.5h5M1077 886.5h4M1082 886.5h2M1085 886.5h16M1103 886.5h1M1105 886.5h1M1107 886.5h6M1114 886.5h3M1118 886.5h5M1125 886.5h7M1139 886.5h1M1141 886.5h1M1143 886.5h2M1146 886.5h14M1162 886.5h3M1167 886.5h3M1172 886.5h7M1181 886.5h2M1184 886.5h15M1202 886.5h5M1211 886.5h6M1218 886.5h2M1221 886.5h4M1226 886.5h3M1233 886.5h4M1241 886.5h4M1256 886.5h3M1261 886.5h1M1264 886.5h4M1272 886.5h2M1277 886.5h4M1282 886.5h5M1289 886.5h14M784 887.5h3M788 887.5h5M794 887.5h18M813 887.5h8M822 887.5h6M829 887.5h4M834 887.5h5M840 887.5h3M844 887.5h1M847 887.5h2M852 887.5h25M878 887.5h1M880 887.5h6M889 887.5h25M915 887.5h3M920 887.5h1M922 887.5h1M925 887.5h4M932 887.5h18M952 887.5h4M957 887.5h9M968 887.5h2M971 887.5h2M976 887.5h4M981 887.5h17M999 887.5h4M1005 887.5h22M1028 887.5h2M1031 887.5h27M1059 887.5h5M1066 887.5h5M1072 887.5h5M1081 887.5h4M1086 887.5h13M1103 887.5h8M1112 887.5h4M1117 887.5h4M1123 887.5h2M1132 887.5h30M1165 887.5h8M1174 887.5h14M1189 887.5h2M1193 887.5h4M1199 887.5h4M1205 887.5h7M1217 887.5h9M1232 887.5h2M1236 887.5h13M1253 887.5h4M1258 887.5h2M1261 887.5h3M1273 887.5h4M1280 887.5h3M1286 887.5h4M1296 887.5h7M784 888.5h21M806 888.5h5M812 888.5h14M827 888.5h5M833 888.5h7M841 888.5h3M848 888.5h1M852 888.5h1M854 888.5h1M856 888.5h4M861 888.5h20M882 888.5h3M886 888.5h7M894 888.5h2M897 888.5h1M900 888.5h4M905 888.5h8M914 888.5h3M918 888.5h2M921 888.5h17M939 888.5h4M944 888.5h1M946 888.5h15M962 888.5h5M968 888.5h11M981 888.5h19M1002 888.5h1M1004 888.5h7M1012 888.5h1M1015 888.5h13M1029 888.5h2M1035 888.5h42M1080 888.5h1M1083 888.5h26M1111 888.5h4M1116 888.5h2M1120 888.5h3M1125 888.5h1M1130 888.5h9M1140 888.5h31M1172 888.5h3M1177 888.5h21M1199 888.5h2M1202 888.5h8M1211 888.5h4M1219 888.5h13M1235 888.5h9M1249 888.5h16M1270 888.5h8M1279 888.5h7M1287 888.5h1M1289 888.5h6M1301 888.5h1M784 889.5h3M788 889.5h9M798 889.5h22M821 889.5h25M847 889.5h5M853 889.5h3M857 889.5h9M867 889.5h13M881 889.5h5M889 889.5h5M895 889.5h21M917 889.5h4M923 889.5h12M936 889.5h4M941 889.5h3M945 889.5h8M954 889.5h21M976 889.5h15M993 889.5h60M1054 889.5h52M1108 889.5h9M1121 889.5h10M1136 889.5h4M1141 889.5h8M1150 889.5h15M1167 889.5h12M1180 889.5h7M1189 889.5h66M1257 889.5h6M1265 889.5h9M1275 889.5h28M784 890.5h27M812 890.5h4M817 890.5h13M831 890.5h12M844 890.5h7M852 890.5h3M856 890.5h1M858 890.5h15M874 890.5h4M880 890.5h5M886 890.5h1M888 890.5h4M893 890.5h3M897 890.5h10M908 890.5h1M910 890.5h39M950 890.5h19M970 890.5h17M988 890.5h5M995 890.5h10M1006 890.5h4M1011 890.5h33M1047 890.5h1M1049 890.5h39M1089 890.5h6M1097 890.5h45M1143 890.5h26M1170 890.5h2M1173 890.5h31M1209 890.5h1M1212 890.5h91M784 891.5h12M797 891.5h18M816 891.5h1M818 891.5h7M826 891.5h18M846 891.5h24M871 891.5h4M876 891.5h1M878 891.5h1M880 891.5h9M891 891.5h3M895 891.5h36M933 891.5h25M961 891.5h23M986 891.5h22M1009 891.5h38M1048 891.5h47M1097 891.5h98M1198 891.5h21M1223 891.5h3M1227 891.5h9M1237 891.5h18M1258 891.5h45M784 892.5h34M819 892.5h5M825 892.5h10M836 892.5h1M838 892.5h4M843 892.5h3M847 892.5h9M857 892.5h13M872 892.5h14M887 892.5h17M905 892.5h2M909 892.5h11M921 892.5h69M991 892.5h84M1076 892.5h13M1090 892.5h4M1095 892.5h5M1101 892.5h1M1103 892.5h87M1191 892.5h7M1199 892.5h78M1278 892.5h25M784 893.5h70M855 893.5h41M897 893.5h32M930 893.5h52M983 893.5h43M1030 893.5h36M1067 893.5h17M1085 893.5h57M1143 893.5h36M1181 893.5h10M1192 893.5h8M1201 893.5h36M1238 893.5h31M1270 893.5h33M784 894.5h86M871 894.5h12M885 894.5h9M895 894.5h60M957 894.5h71M1029 894.5h5M1035 894.5h119M1155 894.5h112M1268 894.5h32M1301 894.5h2M784 895.5h77M862 895.5h2M865 895.5h84M951 895.5h53M1005 895.5h7M1013 895.5h163M1177 895.5h72M1250 895.5h53M784 896.5h368M1153 896.5h59M1213 896.5h14M1228 896.5h75M784 897.5h294M1079 897.5h224M784 898.5h519M784 899.5h519M784 900.5h519M784 901.5h519M784 902.5h519M784 903.5h519M784 904.5h519M784 905.5h519M784 906.5h519M784 907.5h519M784 908.5h519M784 909.5h519M784 910.5h519M784 911.5h519M784 912.5h519M784 913.5h519M784 914.5h519M784 915.5h519M784 916.5h519M784 917.5h519M784 918.5h519M784 919.5h519M784 920.5h519M784 921.5h519M784 922.5h519M784 923.5h519M784 924.5h519M784 925.5h519M784 926.5h519M784 927.5h519M784 928.5h519M784 929.5h519M784 930.5h519M784 931.5h519M784 932.5h519M784 933.5h519M784 934.5h519M784 935.5h519M784 936.5h519M784 937.5h519M784 938.5h519M784 939.5h519M784 940.5h519M784 941.5h519M784 942.5h519M784 943.5h519M1027.5 876L1038.1 858L1048.7 855.1L1059.3 854.2L1069.8 843L1080.4 858L1091 868.5L1101.5 878M1027.5 878L1038.1 868L1048.7 862L1059.3 858.5L1069.8 856L1080.4 862L1091 872M1048.7 878L1059.3 866L1069.8 860.4L1080.4 866L1091 878M1154.4 876L1165 866L1175.5 863L1186.1 860.4L1196.6 864L1207.2 862L1217.8 860.4L1228.3 864L1238.9 868L1249.5 876" stroke="#b3b3b3" stroke-width="1" fill="none" shape-rendering="crispEdges"/>
<polyline points="784.5,940.8 795.09,930.3 805.68,940.8 816.28,942.4 826.87,942.4 837.46,940.1 848.05,937.4 858.64,937.4 869.23,935.6 879.83,932.8 890.42,931 901.01,926.5 911.6,926 922.19,924.9 932.79,929.4 943.38,930.3 953.97,929.9 964.56,927.6 975.15,918.5 985.74,912.2 996.34,915.1 1006.93,909.4 1017.52,909.1 1028.11,898.7 1038.7,899.1 1049.3,890.1 1059.89,887.1 1070.48,879 1081.07,876.6 1091.66,875 1102.26,863.9 1112.85,862.7 1123.44,863.4 1134.03,847.7 1144.62,827.3 1155.21,815.7 1165.81,810.1 1176.4,809 1186.99,809.9 1197.58,813.4 1208.17,817.6 1218.77,813.4 1229.36,815.2 1239.95,807.8 1250.54,790.9 1261.13,785.1 1271.72,793.2 1282.32,776.3 1292.91,778.2 1303.5,782.1" fill="none" stroke="#000" stroke-width="1" stroke-dasharray="7 1.2" shape-rendering="crispEdges"/>
<g font-size="18" fill="#000" stroke="#000" stroke-width="0.15"><text transform="translate(779.8,950.3) scale(0.965,1)" text-anchor="end">0</text><text transform="translate(779.8,876.13) scale(0.965,1)" text-anchor="end">5</text><text transform="translate(779.8,801.97) scale(0.965,1)" text-anchor="end">10</text><text transform="translate(826.87,965.7) scale(0.965,1)" text-anchor="middle">50</text><text transform="translate(879.83,965.7) scale(0.965,1)" text-anchor="middle">100</text><text transform="translate(932.79,965.7) scale(0.965,1)" text-anchor="middle">150</text><text transform="translate(985.74,965.7) scale(0.965,1)" text-anchor="middle">200</text><text transform="translate(1038.7,965.7) scale(0.965,1)" text-anchor="middle">250</text><text transform="translate(1091.66,965.7) scale(0.965,1)" text-anchor="middle">300</text><text transform="translate(1144.62,965.7) scale(0.965,1)" text-anchor="middle">350</text><text transform="translate(1197.58,965.7) scale(0.965,1)" text-anchor="middle">400</text><text transform="translate(1250.54,965.7) scale(0.965,1)" text-anchor="middle">450</text><text transform="translate(1303.5,965.7) scale(0.965,1)" text-anchor="middle">500</text></g>
<g font-size="17.5" fill="#000"><text x="957.2" y="989.9" textLength="23.600000000000023" lengthAdjust="spacingAndGlyphs">no.</text><text x="988.5" y="989.9" textLength="72.69999999999999" lengthAdjust="spacingAndGlyphs">of traces</text><text x="1087.6" y="989.9" textLength="41.39999999999996" lengthAdjust="spacingAndGlyphs">1000</text></g>
<path d="M1070.4 981.2L1078.8 989.4M1078.8 981.2L1070.4 989.4" stroke="#000" stroke-width="1.05" fill="none"/>
<text transform="translate(752.8,853.7) rotate(-90)" x="0" y="0" text-anchor="middle" font-size="19" textLength="76.6" lengthAdjust="spacingAndGlyphs" stroke="#fff" stroke-width="0.25">-log10(p)</text>
<g fill="#000"><text class="s" font-size="100" stroke="#fff" stroke-width="0.39" transform="matrix(0.3582 0 0 0.4081 61.23 309.11)">(</text><text class="s" font-size="100" stroke="#fff" stroke-width="0.38" transform="matrix(0.4481 0 0 0.3486 74.02 308.96)">a</text><text class="s" font-size="100" stroke="#fff" stroke-width="0.40" transform="matrix(0.3465 0 0 0.4081 94.58 309.11)">)</text><text class="s" font-size="100" stroke="#fff" stroke-width="0.37" transform="matrix(0.4051 0 0 0.3971 121.43 308.90)">H</text><text class="s" font-size="100" stroke="#fff" stroke-width="0.38" transform="matrix(0.4026 0 0 0.3959 149.54 308.82)">D</text><path d="M184.60 279.40C186.20 278.80 188.20 279.80 187.60 281.40L181.00 295.20L180.10 294.80Z" fill="#000"/><text class="s" font-size="100" stroke="#fff" stroke-width="0.38" transform="matrix(0.3738 0 0 0.4081 192.06 309.11)">(</text><text class="s" font-size="100" font-style="italic" stroke="#fff" stroke-width="0.34" transform="matrix(0.4808 0 0 0.4019 206.74 309.11)">S</text><text class="s" font-size="100" stroke="#fff" stroke-width="0.38" transform="matrix(0.3738 0 0 0.4081 232.56 309.11)">(</text><text class="s" font-size="100" font-style="italic" stroke="#fff" stroke-width="0.40" transform="matrix(0.4183 0 0 0.3348 245.65 308.67)">p</text><text class="s" font-size="100" stroke="#000" stroke-width="0.56" transform="matrix(0.2755 0 0 0.2560 265.83 312.90)">1</text><circle cx="306.50" cy="299.50" r="12.35" fill="none" stroke="#000" stroke-width="1.1"/><path d="M294.15 299.50H318.85M306.50 287.15V311.85" stroke="#000" stroke-width="1"/><text class="s" font-size="100" font-style="italic" stroke="#fff" stroke-width="0.39" transform="matrix(0.4026 0 0 0.3762 329.84 308.90)">k</text><text class="s" font-size="100" stroke="#000" stroke-width="0.56" transform="matrix(0.2755 0 0 0.2560 349.58 312.90)">1</text><text class="s" font-size="100" stroke="#fff" stroke-width="0.40" transform="matrix(0.3348 0 0 0.4081 367.92 309.11)">)</text><text class="s" font-size="100" stroke="#fff" stroke-width="0.39" transform="matrix(0.3760 0 0 0.3971 383.17 309.39)">,</text><text class="s" font-size="100" font-style="italic" stroke="#fff" stroke-width="0.34" transform="matrix(0.4765 0 0 0.4019 400.04 309.11)">S</text><text class="s" font-size="100" stroke="#fff" stroke-width="0.37" transform="matrix(0.3971 0 0 0.4081 425.45 309.11)">(</text><text class="s" font-size="100" font-style="italic" stroke="#fff" stroke-width="0.40" transform="matrix(0.4183 0 0 0.3348 440.45 308.67)">p</text><text class="s" font-size="100" stroke="#000" stroke-width="0.54" transform="matrix(0.3018 0 0 0.2552 458.52 312.90)">2</text><circle cx="498.50" cy="299.50" r="12.10" fill="none" stroke="#000" stroke-width="1.1"/><path d="M486.40 299.50H510.60M498.50 287.40V311.60" stroke="#000" stroke-width="1"/><text class="s" font-size="100" font-style="italic" stroke="#fff" stroke-width="0.39" transform="matrix(0.4026 0 0 0.3762 523.84 308.90)">k</text><text class="s" font-size="100" stroke="#000" stroke-width="0.54" transform="matrix(0.3018 0 0 0.2552 542.37 312.90)">2</text><text class="s" font-size="100" stroke="#fff" stroke-width="0.38" transform="matrix(0.3738 0 0 0.4081 560.80 309.11)">)</text><text class="s" font-size="100" stroke="#fff" stroke-width="0.39" transform="matrix(0.3699 0 0 0.4081 575.81 309.11)">)</text><text class="s" font-size="100" stroke="#fff" stroke-width="0.38" transform="matrix(0.3816 0 0 0.4081 746.42 309.11)">(</text><text class="s" font-size="100" stroke="#fff" stroke-width="0.40" transform="matrix(0.3767 0 0 0.3766 762.70 308.93)">b</text><text class="s" font-size="100" stroke="#fff" stroke-width="0.38" transform="matrix(0.3738 0 0 0.4081 781.80 309.11)">)</text><text class="s" font-size="100" stroke="#fff" stroke-width="0.37" transform="matrix(0.4051 0 0 0.3971 808.83 308.90)">H</text><text class="s" font-size="100" stroke="#fff" stroke-width="0.38" transform="matrix(0.4026 0 0 0.3959 836.94 308.82)">D</text><path d="M872.00 279.40C873.60 278.80 875.60 279.80 875.00 281.40L868.40 295.20L867.50 294.80Z" fill="#000"/><text class="s" font-size="100" stroke="#fff" stroke-width="0.38" transform="matrix(0.3738 0 0 0.4081 879.46 309.11)">(</text><text class="s" font-size="100" font-style="italic" stroke="#fff" stroke-width="0.34" transform="matrix(0.4808 0 0 0.4019 894.14 309.11)">S</text><text class="s" font-size="100" stroke="#fff" stroke-width="0.38" transform="matrix(0.3738 0 0 0.4081 919.96 309.11)">(</text><text class="s" font-size="100" font-style="italic" stroke="#fff" stroke-width="0.40" transform="matrix(0.4183 0 0 0.3348 933.05 308.67)">p</text><text class="s" font-size="100" stroke="#000" stroke-width="0.55" transform="matrix(0.2880 0 0 0.2543 953.03 312.65)">5</text><circle cx="993.50" cy="299.50" r="12.35" fill="none" stroke="#000" stroke-width="1.1"/><path d="M981.15 299.50H1005.85M993.50 287.15V311.85" stroke="#000" stroke-width="1"/><text class="s" font-size="100" font-style="italic" stroke="#fff" stroke-width="0.39" transform="matrix(0.4026 0 0 0.3762 1017.24 308.90)">k</text><text class="s" font-size="100" stroke="#000" stroke-width="0.55" transform="matrix(0.2880 0 0 0.2543 1036.78 312.65)">5</text><text class="s" font-size="100" stroke="#fff" stroke-width="0.40" transform="matrix(0.3348 0 0 0.4081 1055.32 309.11)">)</text><text class="s" font-size="100" stroke="#fff" stroke-width="0.39" transform="matrix(0.3760 0 0 0.3971 1070.57 309.39)">,</text><text class="s" font-size="100" font-style="italic" stroke="#fff" stroke-width="0.34" transform="matrix(0.4765 0 0 0.4019 1087.44 309.11)">S</text><text class="s" font-size="100" stroke="#fff" stroke-width="0.37" transform="matrix(0.3971 0 0 0.4081 1112.85 309.11)">(</text><text class="s" font-size="100" font-style="italic" stroke="#fff" stroke-width="0.40" transform="matrix(0.4183 0 0 0.3348 1127.85 308.67)">p</text><text class="s" font-size="100" stroke="#000" stroke-width="0.57" transform="matrix(0.2762 0 0 0.2515 1146.21 312.65)">6</text><circle cx="1186.50" cy="299.50" r="12.10" fill="none" stroke="#000" stroke-width="1.1"/><path d="M1174.40 299.50H1198.60M1186.50 287.40V311.60" stroke="#000" stroke-width="1"/><text class="s" font-size="100" font-style="italic" stroke="#fff" stroke-width="0.39" transform="matrix(0.4026 0 0 0.3762 1211.24 308.90)">k</text><text class="s" font-size="100" stroke="#000" stroke-width="0.57" transform="matrix(0.2762 0 0 0.2515 1230.06 312.65)">6</text><text class="s" font-size="100" stroke="#fff" stroke-width="0.38" transform="matrix(0.3738 0 0 0.4081 1248.20 309.11)">)</text><text class="s" font-size="100" stroke="#fff" stroke-width="0.39" transform="matrix(0.3699 0 0 0.4081 1263.21 309.11)">)</text><text class="s" font-size="100" stroke="#fff" stroke-width="0.40" transform="matrix(0.3465 0 0 0.4081 62.48 676.11)">(</text><text class="s" font-size="100" stroke="#fff" stroke-width="0.41" transform="matrix(0.3920 0 0 0.3472 75.01 675.96)">c</text><text class="s" font-size="100" stroke="#fff" stroke-width="0.40" transform="matrix(0.3465 0 0 0.4081 93.08 676.11)">)</text><text class="s" font-size="100" stroke="#fff" stroke-width="0.37" transform="matrix(0.4051 0 0 0.3971 119.93 675.90)">H</text><text class="s" font-size="100" stroke="#fff" stroke-width="0.38" transform="matrix(0.4026 0 0 0.3959 148.04 675.82)">D</text><path d="M183.10 646.40C184.70 645.80 186.70 646.80 186.10 648.40L179.50 662.20L178.60 661.80Z" fill="#000"/><text class="s" font-size="100" stroke="#fff" stroke-width="0.38" transform="matrix(0.3738 0 0 0.4081 190.56 676.11)">(</text><text class="s" font-size="100" font-style="italic" stroke="#fff" stroke-width="0.34" transform="matrix(0.4808 0 0 0.4019 205.24 676.11)">S</text><text class="s" font-size="100" stroke="#fff" stroke-width="0.38" transform="matrix(0.3738 0 0 0.4081 231.06 676.11)">(</text><text class="s" font-size="100" font-style="italic" stroke="#fff" stroke-width="0.40" transform="matrix(0.4183 0 0 0.3348 244.15 675.67)">p</text><text class="s" font-size="100" stroke="#000" stroke-width="0.57" transform="matrix(0.2762 0 0 0.2515 264.51 679.65)">6</text><circle cx="304.50" cy="666.50" r="12.35" fill="none" stroke="#000" stroke-width="1.1"/><path d="M292.15 666.50H316.85M304.50 654.15V678.85" stroke="#000" stroke-width="1"/><text class="s" font-size="100" font-style="italic" stroke="#fff" stroke-width="0.39" transform="matrix(0.4026 0 0 0.3762 328.34 675.90)">k</text><text class="s" font-size="100" stroke="#000" stroke-width="0.57" transform="matrix(0.2762 0 0 0.2515 348.26 679.65)">6</text><text class="s" font-size="100" stroke="#fff" stroke-width="0.40" transform="matrix(0.3348 0 0 0.4081 366.42 676.11)">)</text><text class="s" font-size="100" stroke="#fff" stroke-width="0.39" transform="matrix(0.3760 0 0 0.3971 381.67 676.39)">,</text><text class="s" font-size="100" font-style="italic" stroke="#fff" stroke-width="0.34" transform="matrix(0.4765 0 0 0.4019 398.54 676.11)">S</text><text class="s" font-size="100" stroke="#fff" stroke-width="0.37" transform="matrix(0.3971 0 0 0.4081 423.95 676.11)">(</text><text class="s" font-size="100" font-style="italic" stroke="#fff" stroke-width="0.40" transform="matrix(0.4183 0 0 0.3348 438.95 675.67)">p</text><text class="s" font-size="100" stroke="#000" stroke-width="0.54" transform="matrix(0.3010 0 0 0.2581 456.32 679.90)">7</text><circle cx="497.50" cy="666.50" r="12.10" fill="none" stroke="#000" stroke-width="1.1"/><path d="M485.40 666.50H509.60M497.50 654.40V678.60" stroke="#000" stroke-width="1"/><text class="s" font-size="100" font-style="italic" stroke="#fff" stroke-width="0.39" transform="matrix(0.4026 0 0 0.3762 522.34 675.90)">k</text><text class="s" font-size="100" stroke="#000" stroke-width="0.54" transform="matrix(0.3010 0 0 0.2581 540.17 679.90)">7</text><text class="s" font-size="100" stroke="#fff" stroke-width="0.38" transform="matrix(0.3738 0 0 0.4081 559.30 676.11)">)</text><text class="s" font-size="100" stroke="#fff" stroke-width="0.39" transform="matrix(0.3699 0 0 0.4081 574.31 676.11)">)</text><text class="s" font-size="100" stroke="#fff" stroke-width="0.39" transform="matrix(0.3621 0 0 0.4081 731.91 676.21)">(</text><text class="s" font-size="100" stroke="#fff" stroke-width="0.38" transform="matrix(0.4207 0 0 0.3766 744.28 676.03)">d</text><text class="s" font-size="100" stroke="#fff" stroke-width="0.39" transform="matrix(0.3660 0 0 0.4081 766.62 676.21)">)</text><text class="s" font-size="100" stroke="#fff" stroke-width="0.37" transform="matrix(0.4051 0 0 0.3971 793.93 676.00)">H</text><text class="s" font-size="100" stroke="#fff" stroke-width="0.38" transform="matrix(0.4026 0 0 0.3959 822.04 675.92)">D</text><path d="M857.10 646.50C858.70 645.90 860.70 646.90 860.10 648.50L853.50 662.30L852.60 661.90Z" fill="#000"/><text class="s" font-size="100" stroke="#fff" stroke-width="0.38" transform="matrix(0.3738 0 0 0.4081 864.56 676.21)">(</text><text class="s" font-size="100" font-style="italic" stroke="#fff" stroke-width="0.34" transform="matrix(0.4808 0 0 0.4019 879.24 676.21)">S</text><text class="s" font-size="100" stroke="#fff" stroke-width="0.38" transform="matrix(0.3738 0 0 0.4081 905.06 676.21)">(</text><text class="s" font-size="100" font-style="italic" stroke="#fff" stroke-width="0.40" transform="matrix(0.4183 0 0 0.3348 918.15 675.77)">p</text><text class="s" font-size="100" stroke="#000" stroke-width="0.57" transform="matrix(0.2765 0 0 0.2515 938.81 679.75)">9</text><circle cx="978.50" cy="666.50" r="12.35" fill="none" stroke="#000" stroke-width="1.1"/><path d="M966.15 666.50H990.85M978.50 654.15V678.85" stroke="#000" stroke-width="1"/><text class="s" font-size="100" font-style="italic" stroke="#fff" stroke-width="0.39" transform="matrix(0.4026 0 0 0.3762 1002.34 676.00)">k</text><text class="s" font-size="100" stroke="#000" stroke-width="0.57" transform="matrix(0.2765 0 0 0.2515 1022.56 679.75)">9</text><text class="s" font-size="100" stroke="#fff" stroke-width="0.40" transform="matrix(0.3348 0 0 0.4081 1040.42 676.21)">)</text><text class="s" font-size="100" stroke="#fff" stroke-width="0.39" transform="matrix(0.3760 0 0 0.3971 1055.67 676.49)">,</text><text class="s" font-size="100" font-style="italic" stroke="#fff" stroke-width="0.34" transform="matrix(0.4765 0 0 0.4019 1072.54 676.21)">S</text><text class="s" font-size="100" stroke="#fff" stroke-width="0.37" transform="matrix(0.3971 0 0 0.4081 1097.95 676.21)">(</text><text class="s" font-size="100" font-style="italic" stroke="#fff" stroke-width="0.40" transform="matrix(0.4183 0 0 0.3348 1112.95 675.77)">p</text><text class="s" font-size="100" stroke="#000" stroke-width="0.56" transform="matrix(0.2755 0 0 0.2560 1131.13 680.00)">1</text><text class="s" font-size="100" stroke="#000" stroke-width="0.55" transform="matrix(0.2996 0 0 0.2504 1145.81 679.76)">0</text><circle cx="1186.50" cy="666.50" r="12.10" fill="none" stroke="#000" stroke-width="1.1"/><path d="M1174.40 666.50H1198.60M1186.50 654.40V678.60" stroke="#000" stroke-width="1"/><text class="s" font-size="100" font-style="italic" stroke="#fff" stroke-width="0.39" transform="matrix(0.4026 0 0 0.3762 1211.24 676.00)">k</text><text class="s" font-size="100" stroke="#000" stroke-width="0.56" transform="matrix(0.2755 0 0 0.2560 1229.88 680.00)">1</text><text class="s" font-size="100" stroke="#000" stroke-width="0.55" transform="matrix(0.2996 0 0 0.2504 1244.56 679.76)">0</text><text class="s" font-size="100" stroke="#fff" stroke-width="0.38" transform="matrix(0.3738 0 0 0.4081 1263.10 676.21)">)</text><text class="s" font-size="100" stroke="#fff" stroke-width="0.39" transform="matrix(0.3699 0 0 0.4081 1278.11 676.21)">)</text><text class="s" font-size="100" stroke="#fff" stroke-width="0.39" transform="matrix(0.3621 0 0 0.4081 31.91 1043.21)">(</text><text class="s" font-size="100" stroke="#fff" stroke-width="0.39" transform="matrix(0.4242 0 0 0.3472 43.74 1043.06)">e</text><text class="s" font-size="100" stroke="#fff" stroke-width="0.39" transform="matrix(0.3660 0 0 0.4081 62.52 1043.21)">)</text><text class="s" font-size="100" stroke="#fff" stroke-width="0.37" transform="matrix(0.4051 0 0 0.3971 89.83 1043.00)">H</text><text class="s" font-size="100" stroke="#fff" stroke-width="0.38" transform="matrix(0.4026 0 0 0.3959 117.94 1042.92)">D</text><path d="M153.00 1013.50C154.60 1012.90 156.60 1013.90 156.00 1015.50L149.40 1029.30L148.50 1028.90Z" fill="#000"/><text class="s" font-size="100" stroke="#fff" stroke-width="0.38" transform="matrix(0.3738 0 0 0.4081 160.46 1043.21)">(</text><text class="s" font-size="100" font-style="italic" stroke="#fff" stroke-width="0.34" transform="matrix(0.4808 0 0 0.4019 175.14 1043.21)">S</text><text class="s" font-size="100" stroke="#fff" stroke-width="0.38" transform="matrix(0.3738 0 0 0.4081 200.96 1043.21)">(</text><text class="s" font-size="100" font-style="italic" stroke="#fff" stroke-width="0.40" transform="matrix(0.4183 0 0 0.3348 214.05 1042.77)">p</text><text class="s" font-size="100" stroke="#000" stroke-width="0.56" transform="matrix(0.2755 0 0 0.2560 234.23 1047.00)">1</text><text class="s" font-size="100" stroke="#000" stroke-width="0.56" transform="matrix(0.2857 0 0 0.2515 249.13 1046.75)">3</text><circle cx="289.50" cy="1033.50" r="12.35" fill="none" stroke="#000" stroke-width="1.1"/><path d="M277.15 1033.50H301.85M289.50 1021.15V1045.85" stroke="#000" stroke-width="1"/><text class="s" font-size="100" font-style="italic" stroke="#fff" stroke-width="0.39" transform="matrix(0.4026 0 0 0.3762 313.14 1043.00)">k</text><text class="s" font-size="100" stroke="#000" stroke-width="0.56" transform="matrix(0.2755 0 0 0.2560 332.88 1047.00)">1</text><text class="s" font-size="100" stroke="#000" stroke-width="0.56" transform="matrix(0.2857 0 0 0.2515 347.78 1046.75)">3</text><text class="s" font-size="100" stroke="#fff" stroke-width="0.40" transform="matrix(0.3348 0 0 0.4081 366.12 1043.21)">)</text><text class="s" font-size="100" stroke="#fff" stroke-width="0.39" transform="matrix(0.3760 0 0 0.3971 381.37 1043.49)">,</text><text class="s" font-size="100" font-style="italic" stroke="#fff" stroke-width="0.34" transform="matrix(0.4765 0 0 0.4019 398.24 1043.21)">S</text><text class="s" font-size="100" stroke="#fff" stroke-width="0.37" transform="matrix(0.3971 0 0 0.4081 423.65 1043.21)">(</text><text class="s" font-size="100" font-style="italic" stroke="#fff" stroke-width="0.40" transform="matrix(0.4183 0 0 0.3348 438.65 1042.77)">p</text><text class="s" font-size="100" stroke="#000" stroke-width="0.56" transform="matrix(0.2755 0 0 0.2560 456.83 1047.00)">1</text><text class="s" font-size="100" stroke="#000" stroke-width="0.56" transform="matrix(0.2818 0 0 0.2568 471.90 1047.00)">4</text><circle cx="512.50" cy="1033.50" r="12.10" fill="none" stroke="#000" stroke-width="1.1"/><path d="M500.40 1033.50H524.60M512.50 1021.40V1045.60" stroke="#000" stroke-width="1"/><text class="s" font-size="100" font-style="italic" stroke="#fff" stroke-width="0.39" transform="matrix(0.4026 0 0 0.3762 536.94 1043.00)">k</text><text class="s" font-size="100" stroke="#000" stroke-width="0.56" transform="matrix(0.2755 0 0 0.2560 555.58 1047.00)">1</text><text class="s" font-size="100" stroke="#000" stroke-width="0.56" transform="matrix(0.2818 0 0 0.2568 570.65 1047.00)">4</text><text class="s" font-size="100" stroke="#fff" stroke-width="0.38" transform="matrix(0.3738 0 0 0.4081 588.80 1043.21)">)</text><text class="s" font-size="100" stroke="#fff" stroke-width="0.39" transform="matrix(0.3699 0 0 0.4081 603.81 1043.21)">)</text><text class="s" font-size="100" stroke="#fff" stroke-width="0.39" transform="matrix(0.3621 0 0 0.4081 720.11 1043.21)">(</text><text class="s" font-size="100" stroke="#fff" stroke-width="0.39" transform="matrix(0.4070 0 0 0.3707 732.75 1043.00)">f</text><text class="s" font-size="100" stroke="#fff" stroke-width="0.40" transform="matrix(0.3348 0 0 0.4081 748.62 1043.21)">)</text><text class="s" font-size="100" stroke="#fff" stroke-width="0.37" transform="matrix(0.4051 0 0 0.3971 775.43 1043.00)">H</text><text class="s" font-size="100" stroke="#fff" stroke-width="0.38" transform="matrix(0.4026 0 0 0.3959 803.54 1042.92)">D</text><path d="M838.60 1013.50C840.20 1012.90 842.20 1013.90 841.60 1015.50L835.00 1029.30L834.10 1028.90Z" fill="#000"/><text class="s" font-size="100" stroke="#fff" stroke-width="0.38" transform="matrix(0.3738 0 0 0.4081 846.06 1043.21)">(</text><text class="s" font-size="100" font-style="italic" stroke="#fff" stroke-width="0.34" transform="matrix(0.4808 0 0 0.4019 860.74 1043.21)">S</text><text class="s" font-size="100" stroke="#fff" stroke-width="0.38" transform="matrix(0.3738 0 0 0.4081 886.56 1043.21)">(</text><text class="s" font-size="100" font-style="italic" stroke="#fff" stroke-width="0.40" transform="matrix(0.4183 0 0 0.3348 899.65 1042.77)">p</text><text class="s" font-size="100" stroke="#000" stroke-width="0.56" transform="matrix(0.2755 0 0 0.2560 919.83 1047.00)">1</text><text class="s" font-size="100" stroke="#000" stroke-width="0.56" transform="matrix(0.2818 0 0 0.2568 934.90 1047.00)">4</text><circle cx="974.50" cy="1033.50" r="12.35" fill="none" stroke="#000" stroke-width="1.1"/><path d="M962.15 1033.50H986.85M974.50 1021.15V1045.85" stroke="#000" stroke-width="1"/><text class="s" font-size="100" font-style="italic" stroke="#fff" stroke-width="0.39" transform="matrix(0.4026 0 0 0.3762 998.74 1043.00)">k</text><text class="s" font-size="100" stroke="#000" stroke-width="0.56" transform="matrix(0.2755 0 0 0.2560 1018.48 1047.00)">1</text><text class="s" font-size="100" stroke="#000" stroke-width="0.56" transform="matrix(0.2818 0 0 0.2568 1033.55 1047.00)">4</text><text class="s" font-size="100" stroke="#fff" stroke-width="0.40" transform="matrix(0.3348 0 0 0.4081 1051.72 1043.21)">)</text><text class="s" font-size="100" stroke="#fff" stroke-width="0.39" transform="matrix(0.3760 0 0 0.3971 1066.97 1043.49)">,</text><text class="s" font-size="100" font-style="italic" stroke="#fff" stroke-width="0.34" transform="matrix(0.4765 0 0 0.4019 1083.84 1043.21)">S</text><text class="s" font-size="100" stroke="#fff" stroke-width="0.37" transform="matrix(0.3971 0 0 0.4081 1109.25 1043.21)">(</text><text class="s" font-size="100" font-style="italic" stroke="#fff" stroke-width="0.40" transform="matrix(0.4183 0 0 0.3348 1124.25 1042.77)">p</text><text class="s" font-size="100" stroke="#000" stroke-width="0.56" transform="matrix(0.2755 0 0 0.2560 1142.43 1047.00)">1</text><text class="s" font-size="100" stroke="#000" stroke-width="0.55" transform="matrix(0.2880 0 0 0.2543 1157.13 1046.75)">5</text><circle cx="1197.50" cy="1033.50" r="12.10" fill="none" stroke="#000" stroke-width="1.1"/><path d="M1185.40 1033.50H1209.60M1197.50 1021.40V1045.60" stroke="#000" stroke-width="1"/><text class="s" font-size="100" font-style="italic" stroke="#fff" stroke-width="0.39" transform="matrix(0.4026 0 0 0.3762 1222.54 1043.00)">k</text><text class="s" font-size="100" stroke="#000" stroke-width="0.56" transform="matrix(0.2755 0 0 0.2560 1241.18 1047.00)">1</text><text class="s" font-size="100" stroke="#000" stroke-width="0.55" transform="matrix(0.2880 0 0 0.2543 1255.88 1046.75)">5</text><text class="s" font-size="100" stroke="#fff" stroke-width="0.38" transform="matrix(0.3738 0 0 0.4081 1274.40 1043.21)">)</text><text class="s" font-size="100" stroke="#fff" stroke-width="0.39" transform="matrix(0.3699 0 0 0.4081 1289.41 1043.21)">)</text></g>
</svg></body></html>
